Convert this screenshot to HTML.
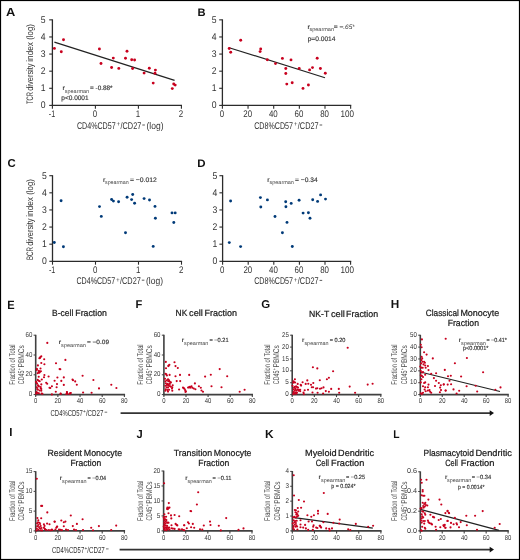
<!DOCTYPE html>
<html><head><meta charset="utf-8"><title>Figure</title>
<style>
html,body{margin:0;padding:0;background:#fff;}
body{width:520px;height:560px;overflow:hidden;}
svg{display:block;font-family:"Liberation Sans", sans-serif;will-change:transform;text-rendering:geometricPrecision;}
</style></head><body>
<svg width="520" height="560" viewBox="0 0 520 560">
<rect x="0.5" y="0.5" width="519" height="559" fill="#fff" stroke="#000" stroke-width="1.2"/>
<text x="5.9" y="16.2" font-size="11.73" font-weight="bold" font-style="normal" fill="#111" textLength="9.3" lengthAdjust="spacingAndGlyphs">A</text>
<text x="197.5" y="16.2" font-size="10.89" font-weight="bold" font-style="normal" fill="#111" textLength="8.1" lengthAdjust="spacingAndGlyphs">B</text>
<text x="7.5" y="167.1" font-size="11.45" font-weight="bold" font-style="normal" fill="#111" textLength="8.2" lengthAdjust="spacingAndGlyphs">C</text>
<text x="197.3" y="166.7" font-size="11.03" font-weight="bold" font-style="normal" fill="#111" textLength="8.3" lengthAdjust="spacingAndGlyphs">D</text>
<text x="7.2" y="308.5" font-size="12.01" font-weight="bold" font-style="normal" fill="#111" textLength="7.4" lengthAdjust="spacingAndGlyphs">E</text>
<text x="135.5" y="308.4" font-size="11.31" font-weight="bold" font-style="normal" fill="#111" textLength="6.8" lengthAdjust="spacingAndGlyphs">F</text>
<text x="261.2" y="307.9" font-size="11.31" font-weight="bold" font-style="normal" fill="#111" textLength="8.9" lengthAdjust="spacingAndGlyphs">G</text>
<text x="390.8" y="307.9" font-size="11.73" font-weight="bold" font-style="normal" fill="#111" textLength="8.5" lengthAdjust="spacingAndGlyphs">H</text>
<text x="9.3" y="435.8" font-size="11.73" font-weight="bold" font-style="normal" fill="#111" textLength="3.2" lengthAdjust="spacingAndGlyphs">I</text>
<text x="136.6" y="438.1" font-size="11.73" font-weight="bold" font-style="normal" fill="#111" textLength="6.2" lengthAdjust="spacingAndGlyphs">J</text>
<text x="265" y="437.9" font-size="11.59" font-weight="bold" font-style="normal" fill="#111" textLength="8.6" lengthAdjust="spacingAndGlyphs">K</text>
<text x="393.2" y="437.9" font-size="11.31" font-weight="bold" font-style="normal" fill="#111" textLength="6.3" lengthAdjust="spacingAndGlyphs">L</text>
<line x1="52.4" y1="19.35" x2="52.4" y2="106" stroke="#2b2b2b" stroke-width="1.3"/>
<line x1="51.8" y1="105.4" x2="182" y2="105.4" stroke="#2b2b2b" stroke-width="1.3"/>
<line x1="49.2" y1="105.4" x2="52.4" y2="105.4" stroke="#2b2b2b" stroke-width="1.1"/>
<text x="40.7" y="108.2" font-size="9.7" font-weight="normal" font-style="normal" fill="#333333" textLength="4.8" lengthAdjust="spacingAndGlyphs">0</text>
<line x1="49.2" y1="88.29" x2="52.4" y2="88.29" stroke="#2b2b2b" stroke-width="1.1"/>
<text x="40.7" y="91.09" font-size="9.7" font-weight="normal" font-style="normal" fill="#333333" textLength="4.8" lengthAdjust="spacingAndGlyphs">1</text>
<line x1="49.2" y1="71.18" x2="52.4" y2="71.18" stroke="#2b2b2b" stroke-width="1.1"/>
<text x="40.7" y="73.98" font-size="9.7" font-weight="normal" font-style="normal" fill="#333333" textLength="4.8" lengthAdjust="spacingAndGlyphs">2</text>
<line x1="49.2" y1="54.07" x2="52.4" y2="54.07" stroke="#2b2b2b" stroke-width="1.1"/>
<text x="40.7" y="56.87" font-size="9.7" font-weight="normal" font-style="normal" fill="#333333" textLength="4.8" lengthAdjust="spacingAndGlyphs">3</text>
<line x1="49.2" y1="36.96" x2="52.4" y2="36.96" stroke="#2b2b2b" stroke-width="1.1"/>
<text x="40.7" y="39.76" font-size="9.7" font-weight="normal" font-style="normal" fill="#333333" textLength="4.8" lengthAdjust="spacingAndGlyphs">4</text>
<line x1="49.2" y1="19.85" x2="52.4" y2="19.85" stroke="#2b2b2b" stroke-width="1.1"/>
<text x="40.7" y="22.65" font-size="9.7" font-weight="normal" font-style="normal" fill="#333333" textLength="4.8" lengthAdjust="spacingAndGlyphs">5</text>
<line x1="52.4" y1="105.4" x2="52.4" y2="108.8" stroke="#2b2b2b" stroke-width="1.1"/>
<text x="48.8" y="117" font-size="9.6" font-weight="normal" font-style="normal" fill="#333333" textLength="6.4" lengthAdjust="spacingAndGlyphs">-1</text>
<line x1="95.4" y1="105.4" x2="95.4" y2="108.8" stroke="#2b2b2b" stroke-width="1.1"/>
<text x="92.8" y="117" font-size="9.6" font-weight="normal" font-style="normal" fill="#333333" textLength="4.4" lengthAdjust="spacingAndGlyphs">0</text>
<line x1="138.4" y1="105.4" x2="138.4" y2="108.8" stroke="#2b2b2b" stroke-width="1.1"/>
<text x="135.8" y="117" font-size="9.6" font-weight="normal" font-style="normal" fill="#333333" textLength="4.4" lengthAdjust="spacingAndGlyphs">1</text>
<line x1="181.4" y1="105.4" x2="181.4" y2="108.8" stroke="#2b2b2b" stroke-width="1.1"/>
<text x="178.8" y="117" font-size="9.6" font-weight="normal" font-style="normal" fill="#333333" textLength="4.4" lengthAdjust="spacingAndGlyphs">2</text>
<line x1="52.5" y1="175.2" x2="52.5" y2="261.9" stroke="#2b2b2b" stroke-width="1.3"/>
<line x1="51.9" y1="261.3" x2="182.1" y2="261.3" stroke="#2b2b2b" stroke-width="1.3"/>
<line x1="49.3" y1="261.3" x2="52.5" y2="261.3" stroke="#2b2b2b" stroke-width="1.1"/>
<text x="41.9" y="264.1" font-size="9.7" font-weight="normal" font-style="normal" fill="#333333" textLength="4.8" lengthAdjust="spacingAndGlyphs">0</text>
<line x1="49.3" y1="244.18" x2="52.5" y2="244.18" stroke="#2b2b2b" stroke-width="1.1"/>
<text x="41.9" y="246.98" font-size="9.7" font-weight="normal" font-style="normal" fill="#333333" textLength="4.8" lengthAdjust="spacingAndGlyphs">1</text>
<line x1="49.3" y1="227.06" x2="52.5" y2="227.06" stroke="#2b2b2b" stroke-width="1.1"/>
<text x="41.9" y="229.86" font-size="9.7" font-weight="normal" font-style="normal" fill="#333333" textLength="4.8" lengthAdjust="spacingAndGlyphs">2</text>
<line x1="49.3" y1="209.94" x2="52.5" y2="209.94" stroke="#2b2b2b" stroke-width="1.1"/>
<text x="41.9" y="212.74" font-size="9.7" font-weight="normal" font-style="normal" fill="#333333" textLength="4.8" lengthAdjust="spacingAndGlyphs">3</text>
<line x1="49.3" y1="192.82" x2="52.5" y2="192.82" stroke="#2b2b2b" stroke-width="1.1"/>
<text x="41.9" y="195.62" font-size="9.7" font-weight="normal" font-style="normal" fill="#333333" textLength="4.8" lengthAdjust="spacingAndGlyphs">4</text>
<line x1="49.3" y1="175.7" x2="52.5" y2="175.7" stroke="#2b2b2b" stroke-width="1.1"/>
<text x="41.9" y="178.5" font-size="9.7" font-weight="normal" font-style="normal" fill="#333333" textLength="4.8" lengthAdjust="spacingAndGlyphs">5</text>
<line x1="52.5" y1="261.3" x2="52.5" y2="264.7" stroke="#2b2b2b" stroke-width="1.1"/>
<text x="48.9" y="272.9" font-size="9.6" font-weight="normal" font-style="normal" fill="#333333" textLength="6.4" lengthAdjust="spacingAndGlyphs">-1</text>
<line x1="95.5" y1="261.3" x2="95.5" y2="264.7" stroke="#2b2b2b" stroke-width="1.1"/>
<text x="92.9" y="272.9" font-size="9.6" font-weight="normal" font-style="normal" fill="#333333" textLength="4.4" lengthAdjust="spacingAndGlyphs">0</text>
<line x1="138.5" y1="261.3" x2="138.5" y2="264.7" stroke="#2b2b2b" stroke-width="1.1"/>
<text x="135.9" y="272.9" font-size="9.6" font-weight="normal" font-style="normal" fill="#333333" textLength="4.4" lengthAdjust="spacingAndGlyphs">1</text>
<line x1="181.5" y1="261.3" x2="181.5" y2="264.7" stroke="#2b2b2b" stroke-width="1.1"/>
<text x="178.9" y="272.9" font-size="9.6" font-weight="normal" font-style="normal" fill="#333333" textLength="4.4" lengthAdjust="spacingAndGlyphs">2</text>
<line x1="222.4" y1="19.35" x2="222.4" y2="106" stroke="#2b2b2b" stroke-width="1.3"/>
<line x1="221.8" y1="105.4" x2="351.25" y2="105.4" stroke="#2b2b2b" stroke-width="1.3"/>
<line x1="219.2" y1="105.4" x2="222.4" y2="105.4" stroke="#2b2b2b" stroke-width="1.1"/>
<text x="211.8" y="108.2" font-size="9.7" font-weight="normal" font-style="normal" fill="#333333" textLength="4.8" lengthAdjust="spacingAndGlyphs">0</text>
<line x1="219.2" y1="88.29" x2="222.4" y2="88.29" stroke="#2b2b2b" stroke-width="1.1"/>
<text x="211.8" y="91.09" font-size="9.7" font-weight="normal" font-style="normal" fill="#333333" textLength="4.8" lengthAdjust="spacingAndGlyphs">1</text>
<line x1="219.2" y1="71.18" x2="222.4" y2="71.18" stroke="#2b2b2b" stroke-width="1.1"/>
<text x="211.8" y="73.98" font-size="9.7" font-weight="normal" font-style="normal" fill="#333333" textLength="4.8" lengthAdjust="spacingAndGlyphs">2</text>
<line x1="219.2" y1="54.07" x2="222.4" y2="54.07" stroke="#2b2b2b" stroke-width="1.1"/>
<text x="211.8" y="56.87" font-size="9.7" font-weight="normal" font-style="normal" fill="#333333" textLength="4.8" lengthAdjust="spacingAndGlyphs">3</text>
<line x1="219.2" y1="36.96" x2="222.4" y2="36.96" stroke="#2b2b2b" stroke-width="1.1"/>
<text x="211.8" y="39.76" font-size="9.7" font-weight="normal" font-style="normal" fill="#333333" textLength="4.8" lengthAdjust="spacingAndGlyphs">4</text>
<line x1="219.2" y1="19.85" x2="222.4" y2="19.85" stroke="#2b2b2b" stroke-width="1.1"/>
<text x="211.8" y="22.65" font-size="9.7" font-weight="normal" font-style="normal" fill="#333333" textLength="4.8" lengthAdjust="spacingAndGlyphs">5</text>
<line x1="222.4" y1="105.4" x2="222.4" y2="108.8" stroke="#2b2b2b" stroke-width="1.1"/>
<text x="219.8" y="117" font-size="9.6" font-weight="normal" font-style="normal" fill="#333333" textLength="4.4" lengthAdjust="spacingAndGlyphs">0</text>
<line x1="248.05" y1="105.4" x2="248.05" y2="108.8" stroke="#2b2b2b" stroke-width="1.1"/>
<text x="243.25" y="117" font-size="9.6" font-weight="normal" font-style="normal" fill="#333333" textLength="8.8" lengthAdjust="spacingAndGlyphs">20</text>
<line x1="273.7" y1="105.4" x2="273.7" y2="108.8" stroke="#2b2b2b" stroke-width="1.1"/>
<text x="268.9" y="117" font-size="9.6" font-weight="normal" font-style="normal" fill="#333333" textLength="8.8" lengthAdjust="spacingAndGlyphs">40</text>
<line x1="299.35" y1="105.4" x2="299.35" y2="108.8" stroke="#2b2b2b" stroke-width="1.1"/>
<text x="294.55" y="117" font-size="9.6" font-weight="normal" font-style="normal" fill="#333333" textLength="8.8" lengthAdjust="spacingAndGlyphs">60</text>
<line x1="325" y1="105.4" x2="325" y2="108.8" stroke="#2b2b2b" stroke-width="1.1"/>
<text x="320.2" y="117" font-size="9.6" font-weight="normal" font-style="normal" fill="#333333" textLength="8.8" lengthAdjust="spacingAndGlyphs">80</text>
<line x1="350.65" y1="105.4" x2="350.65" y2="108.8" stroke="#2b2b2b" stroke-width="1.1"/>
<text x="340.5" y="117" font-size="9.6" font-weight="normal" font-style="normal" fill="#333333" textLength="13.5" lengthAdjust="spacingAndGlyphs">100</text>
<line x1="222.6" y1="175.2" x2="222.6" y2="261.9" stroke="#2b2b2b" stroke-width="1.3"/>
<line x1="222" y1="261.3" x2="351.2" y2="261.3" stroke="#2b2b2b" stroke-width="1.3"/>
<line x1="219.4" y1="261.3" x2="222.6" y2="261.3" stroke="#2b2b2b" stroke-width="1.1"/>
<text x="212.4" y="264.1" font-size="9.7" font-weight="normal" font-style="normal" fill="#333333" textLength="4.8" lengthAdjust="spacingAndGlyphs">0</text>
<line x1="219.4" y1="244.18" x2="222.6" y2="244.18" stroke="#2b2b2b" stroke-width="1.1"/>
<text x="212.4" y="246.98" font-size="9.7" font-weight="normal" font-style="normal" fill="#333333" textLength="4.8" lengthAdjust="spacingAndGlyphs">1</text>
<line x1="219.4" y1="227.06" x2="222.6" y2="227.06" stroke="#2b2b2b" stroke-width="1.1"/>
<text x="212.4" y="229.86" font-size="9.7" font-weight="normal" font-style="normal" fill="#333333" textLength="4.8" lengthAdjust="spacingAndGlyphs">2</text>
<line x1="219.4" y1="209.94" x2="222.6" y2="209.94" stroke="#2b2b2b" stroke-width="1.1"/>
<text x="212.4" y="212.74" font-size="9.7" font-weight="normal" font-style="normal" fill="#333333" textLength="4.8" lengthAdjust="spacingAndGlyphs">3</text>
<line x1="219.4" y1="192.82" x2="222.6" y2="192.82" stroke="#2b2b2b" stroke-width="1.1"/>
<text x="212.4" y="195.62" font-size="9.7" font-weight="normal" font-style="normal" fill="#333333" textLength="4.8" lengthAdjust="spacingAndGlyphs">4</text>
<line x1="219.4" y1="175.7" x2="222.6" y2="175.7" stroke="#2b2b2b" stroke-width="1.1"/>
<text x="212.4" y="178.5" font-size="9.7" font-weight="normal" font-style="normal" fill="#333333" textLength="4.8" lengthAdjust="spacingAndGlyphs">5</text>
<line x1="222.6" y1="261.3" x2="222.6" y2="264.7" stroke="#2b2b2b" stroke-width="1.1"/>
<text x="220" y="272.9" font-size="9.6" font-weight="normal" font-style="normal" fill="#333333" textLength="4.4" lengthAdjust="spacingAndGlyphs">0</text>
<line x1="248.2" y1="261.3" x2="248.2" y2="264.7" stroke="#2b2b2b" stroke-width="1.1"/>
<text x="243.4" y="272.9" font-size="9.6" font-weight="normal" font-style="normal" fill="#333333" textLength="8.8" lengthAdjust="spacingAndGlyphs">20</text>
<line x1="273.8" y1="261.3" x2="273.8" y2="264.7" stroke="#2b2b2b" stroke-width="1.1"/>
<text x="269" y="272.9" font-size="9.6" font-weight="normal" font-style="normal" fill="#333333" textLength="8.8" lengthAdjust="spacingAndGlyphs">40</text>
<line x1="299.4" y1="261.3" x2="299.4" y2="264.7" stroke="#2b2b2b" stroke-width="1.1"/>
<text x="294.6" y="272.9" font-size="9.6" font-weight="normal" font-style="normal" fill="#333333" textLength="8.8" lengthAdjust="spacingAndGlyphs">60</text>
<line x1="325" y1="261.3" x2="325" y2="264.7" stroke="#2b2b2b" stroke-width="1.1"/>
<text x="320.2" y="272.9" font-size="9.6" font-weight="normal" font-style="normal" fill="#333333" textLength="8.8" lengthAdjust="spacingAndGlyphs">80</text>
<line x1="350.6" y1="261.3" x2="350.6" y2="264.7" stroke="#2b2b2b" stroke-width="1.1"/>
<text x="340.5" y="272.9" font-size="9.6" font-weight="normal" font-style="normal" fill="#333333" textLength="13.5" lengthAdjust="spacingAndGlyphs">100</text>
<text transform="translate(33 104) rotate(-90)" x="0" y="0" font-size="9.4" font-weight="normal" fill="#333333" textLength="12.1" lengthAdjust="spacingAndGlyphs">TCR</text>
<text transform="translate(33 90.8) rotate(-90)" x="0" y="0" font-size="9.4" font-weight="normal" fill="#333333" textLength="27.4" lengthAdjust="spacingAndGlyphs">diversity</text>
<text transform="translate(33 61.8) rotate(-90)" x="0" y="0" font-size="9.4" font-weight="normal" fill="#333333" textLength="19.8" lengthAdjust="spacingAndGlyphs">index</text>
<text transform="translate(33 39.8) rotate(-90)" x="0" y="0" font-size="9.4" font-weight="normal" fill="#333333" textLength="15.7" lengthAdjust="spacingAndGlyphs">(log)</text>
<text transform="translate(33 260) rotate(-90)" x="0" y="0" font-size="9.4" font-weight="normal" fill="#333333" textLength="13" lengthAdjust="spacingAndGlyphs">BCR</text>
<text transform="translate(33 245.8) rotate(-90)" x="0" y="0" font-size="9.4" font-weight="normal" fill="#333333" textLength="27.4" lengthAdjust="spacingAndGlyphs">diversity</text>
<text transform="translate(33 216.8) rotate(-90)" x="0" y="0" font-size="9.4" font-weight="normal" fill="#333333" textLength="19.8" lengthAdjust="spacingAndGlyphs">index</text>
<text transform="translate(33 194.8) rotate(-90)" x="0" y="0" font-size="9.4" font-weight="normal" fill="#333333" textLength="15.7" lengthAdjust="spacingAndGlyphs">(log)</text>
<text x="76.9" y="128.6" font-size="9.8" font-weight="normal" font-style="normal" fill="#333333" textLength="38.8" lengthAdjust="spacingAndGlyphs">CD4%CD57</text>
<text x="116.5" y="126.3" font-size="6.4" font-weight="normal" font-style="normal" fill="#333333" textLength="3.8" lengthAdjust="spacingAndGlyphs">+</text>
<text x="120.5" y="128.6" font-size="9.8" font-weight="normal" font-style="normal" fill="#333333" textLength="20.8" lengthAdjust="spacingAndGlyphs">/CD27</text>
<line x1="142.3" y1="125" x2="144.9" y2="125" stroke="#333333" stroke-width="0.8"/>
<text x="146.5" y="128.6" font-size="9.8" font-weight="normal" font-style="normal" fill="#333333" textLength="17" lengthAdjust="spacingAndGlyphs">(log)</text>
<text x="76.4" y="283.8" font-size="9.8" font-weight="normal" font-style="normal" fill="#333333" textLength="38.8" lengthAdjust="spacingAndGlyphs">CD4%CD57</text>
<text x="116" y="281.5" font-size="6.4" font-weight="normal" font-style="normal" fill="#333333" textLength="3.8" lengthAdjust="spacingAndGlyphs">+</text>
<text x="120" y="283.8" font-size="9.8" font-weight="normal" font-style="normal" fill="#333333" textLength="20.8" lengthAdjust="spacingAndGlyphs">/CD27</text>
<line x1="141.8" y1="280.2" x2="144.4" y2="280.2" stroke="#333333" stroke-width="0.8"/>
<text x="146" y="283.8" font-size="9.8" font-weight="normal" font-style="normal" fill="#333333" textLength="17" lengthAdjust="spacingAndGlyphs">(log)</text>
<text x="254.2" y="128.6" font-size="9.8" font-weight="normal" font-style="normal" fill="#333333" textLength="38.8" lengthAdjust="spacingAndGlyphs">CD8%CD57</text>
<text x="293.8" y="126.3" font-size="6.4" font-weight="normal" font-style="normal" fill="#333333" textLength="3.8" lengthAdjust="spacingAndGlyphs">+</text>
<text x="297.8" y="128.6" font-size="9.8" font-weight="normal" font-style="normal" fill="#333333" textLength="20.8" lengthAdjust="spacingAndGlyphs">/CD27</text>
<line x1="319.6" y1="125" x2="322.2" y2="125" stroke="#333333" stroke-width="0.8"/>
<text x="254.2" y="284" font-size="9.8" font-weight="normal" font-style="normal" fill="#333333" textLength="38.8" lengthAdjust="spacingAndGlyphs">CD8%CD57</text>
<text x="293.8" y="281.7" font-size="6.4" font-weight="normal" font-style="normal" fill="#333333" textLength="3.8" lengthAdjust="spacingAndGlyphs">+</text>
<text x="297.8" y="284" font-size="9.8" font-weight="normal" font-style="normal" fill="#333333" textLength="20.8" lengthAdjust="spacingAndGlyphs">/CD27</text>
<line x1="319.6" y1="280.4" x2="322.2" y2="280.4" stroke="#333333" stroke-width="0.8"/>
<line x1="54.4" y1="42.1" x2="174.6" y2="80.4" stroke="#222" stroke-width="1.2"/>
<circle cx="54.4" cy="48.4" r="1.45" fill="#c8001e"/>
<circle cx="63.5" cy="39.8" r="1.45" fill="#c8001e"/>
<circle cx="61.3" cy="51.8" r="1.45" fill="#c8001e"/>
<circle cx="99.4" cy="49" r="1.45" fill="#c8001e"/>
<circle cx="101" cy="63.5" r="1.45" fill="#c8001e"/>
<circle cx="113.3" cy="58.1" r="1.45" fill="#c8001e"/>
<circle cx="111.6" cy="67.5" r="1.45" fill="#c8001e"/>
<circle cx="118.8" cy="68.4" r="1.45" fill="#c8001e"/>
<circle cx="127" cy="51.3" r="1.45" fill="#c8001e"/>
<circle cx="125.5" cy="58.3" r="1.45" fill="#c8001e"/>
<circle cx="131.7" cy="59.7" r="1.45" fill="#c8001e"/>
<circle cx="134.6" cy="60" r="1.45" fill="#c8001e"/>
<circle cx="132.6" cy="68.5" r="1.45" fill="#c8001e"/>
<circle cx="149.3" cy="68.2" r="1.45" fill="#c8001e"/>
<circle cx="155.4" cy="70.1" r="1.45" fill="#c8001e"/>
<circle cx="144.1" cy="73.1" r="1.45" fill="#c8001e"/>
<circle cx="155" cy="73.3" r="1.45" fill="#c8001e"/>
<circle cx="153.2" cy="83.1" r="1.45" fill="#c8001e"/>
<circle cx="173.7" cy="84" r="1.45" fill="#c8001e"/>
<circle cx="175.2" cy="85.1" r="1.45" fill="#c8001e"/>
<circle cx="172.3" cy="88.6" r="1.45" fill="#c8001e"/>
<line x1="229.2" y1="47.7" x2="325" y2="77.8" stroke="#222" stroke-width="1.2"/>
<circle cx="240.7" cy="40.2" r="1.45" fill="#c8001e"/>
<circle cx="229.2" cy="48.5" r="1.45" fill="#c8001e"/>
<circle cx="230.7" cy="52.2" r="1.45" fill="#c8001e"/>
<circle cx="260.7" cy="49" r="1.45" fill="#c8001e"/>
<circle cx="260.1" cy="51.6" r="1.45" fill="#c8001e"/>
<circle cx="267.3" cy="59.8" r="1.45" fill="#c8001e"/>
<circle cx="275.5" cy="63.6" r="1.45" fill="#c8001e"/>
<circle cx="282.4" cy="58.4" r="1.45" fill="#c8001e"/>
<circle cx="291" cy="59.9" r="1.45" fill="#c8001e"/>
<circle cx="285.8" cy="68.5" r="1.45" fill="#c8001e"/>
<circle cx="285.8" cy="73.5" r="1.45" fill="#c8001e"/>
<circle cx="299.2" cy="68.4" r="1.45" fill="#c8001e"/>
<circle cx="309.6" cy="69.9" r="1.45" fill="#c8001e"/>
<circle cx="312.5" cy="67.6" r="1.45" fill="#c8001e"/>
<circle cx="317.2" cy="58.2" r="1.45" fill="#c8001e"/>
<circle cx="320.4" cy="68.5" r="1.45" fill="#c8001e"/>
<circle cx="325.3" cy="73.2" r="1.45" fill="#c8001e"/>
<circle cx="286.8" cy="84.1" r="1.45" fill="#c8001e"/>
<circle cx="292.2" cy="82.8" r="1.45" fill="#c8001e"/>
<circle cx="308.4" cy="85" r="1.45" fill="#c8001e"/>
<circle cx="303" cy="88.4" r="1.45" fill="#c8001e"/>
<circle cx="61.1" cy="200.7" r="1.45" fill="#003a78"/>
<circle cx="54.3" cy="242.5" r="1.45" fill="#003a78"/>
<circle cx="63.4" cy="246.8" r="1.45" fill="#003a78"/>
<circle cx="99.5" cy="206.6" r="1.45" fill="#003a78"/>
<circle cx="101.3" cy="216.4" r="1.45" fill="#003a78"/>
<circle cx="111.6" cy="199.5" r="1.45" fill="#003a78"/>
<circle cx="113.4" cy="201.1" r="1.45" fill="#003a78"/>
<circle cx="118.6" cy="201.7" r="1.45" fill="#003a78"/>
<circle cx="127.1" cy="197.3" r="1.45" fill="#003a78"/>
<circle cx="132.7" cy="194.5" r="1.45" fill="#003a78"/>
<circle cx="131.6" cy="199.6" r="1.45" fill="#003a78"/>
<circle cx="134.6" cy="203.2" r="1.45" fill="#003a78"/>
<circle cx="144.1" cy="198.6" r="1.45" fill="#003a78"/>
<circle cx="149.5" cy="200" r="1.45" fill="#003a78"/>
<circle cx="155" cy="206.4" r="1.45" fill="#003a78"/>
<circle cx="155.4" cy="218.2" r="1.45" fill="#003a78"/>
<circle cx="125.5" cy="232.7" r="1.45" fill="#003a78"/>
<circle cx="153.2" cy="246.4" r="1.45" fill="#003a78"/>
<circle cx="172" cy="212.9" r="1.45" fill="#003a78"/>
<circle cx="175.2" cy="212.9" r="1.45" fill="#003a78"/>
<circle cx="173.8" cy="222.5" r="1.45" fill="#003a78"/>
<circle cx="230.6" cy="201" r="1.45" fill="#003a78"/>
<circle cx="229.3" cy="242.6" r="1.45" fill="#003a78"/>
<circle cx="240.6" cy="246.6" r="1.45" fill="#003a78"/>
<circle cx="260.4" cy="197.6" r="1.45" fill="#003a78"/>
<circle cx="260.8" cy="207" r="1.45" fill="#003a78"/>
<circle cx="267.4" cy="199.9" r="1.45" fill="#003a78"/>
<circle cx="275" cy="216.5" r="1.45" fill="#003a78"/>
<circle cx="285.7" cy="201.8" r="1.45" fill="#003a78"/>
<circle cx="285.9" cy="206.7" r="1.45" fill="#003a78"/>
<circle cx="291.2" cy="203.4" r="1.45" fill="#003a78"/>
<circle cx="299.1" cy="200.2" r="1.45" fill="#003a78"/>
<circle cx="303.1" cy="213.1" r="1.45" fill="#003a78"/>
<circle cx="308.4" cy="212.8" r="1.45" fill="#003a78"/>
<circle cx="310" cy="218.2" r="1.45" fill="#003a78"/>
<circle cx="287" cy="222.4" r="1.45" fill="#003a78"/>
<circle cx="282.4" cy="232.7" r="1.45" fill="#003a78"/>
<circle cx="292.3" cy="246.5" r="1.45" fill="#003a78"/>
<circle cx="312.7" cy="199.7" r="1.45" fill="#003a78"/>
<circle cx="317.6" cy="201.4" r="1.45" fill="#003a78"/>
<circle cx="320.6" cy="194.9" r="1.45" fill="#003a78"/>
<circle cx="325.5" cy="199.1" r="1.45" fill="#003a78"/>
<text x="62.4" y="89.7" font-size="6.4" font-weight="normal" font-style="normal" fill="#333333" stroke="#333333" stroke-width="0.15" textLength="2.4" lengthAdjust="spacingAndGlyphs">r</text>
<text x="64.7" y="92.7" font-size="5.4" font-weight="normal" font-style="normal" fill="#444" textLength="24.5" lengthAdjust="spacingAndGlyphs">spearman</text>
<text x="90" y="89.7" font-size="6.4" font-weight="normal" font-style="normal" fill="#333333" stroke="#333333" stroke-width="0.15" textLength="22.6" lengthAdjust="spacingAndGlyphs">= -0.88*</text>
<text x="61.3" y="99.8" font-size="6.6" font-weight="normal" font-style="normal" fill="#333333" stroke="#333333" stroke-width="0.15" textLength="27.3" lengthAdjust="spacingAndGlyphs">p&lt;0.0001</text>
<text x="307.5" y="29.4" font-size="6.4" font-weight="normal" font-style="normal" fill="#333333" stroke="#333333" stroke-width="0.15" textLength="2.4" lengthAdjust="spacingAndGlyphs">r</text>
<text x="309.4" y="31.3" font-size="5.4" font-weight="normal" font-style="normal" fill="#444" textLength="24.6" lengthAdjust="spacingAndGlyphs">spearman</text>
<text x="333.7" y="29.4" font-size="6.4" font-weight="normal" font-style="normal" fill="#333333" stroke="#333333" stroke-width="0.15" textLength="9.7" lengthAdjust="spacingAndGlyphs">= −</text>
<text x="343.3" y="29.4" font-size="6.4" font-weight="normal" font-style="italic" fill="#333333" textLength="9.1" lengthAdjust="spacingAndGlyphs">.65</text>
<text x="352.6" y="29.4" font-size="6.4" font-weight="normal" font-style="normal" fill="#333333" textLength="2.3" lengthAdjust="spacingAndGlyphs">*</text>
<text x="307.7" y="40.5" font-size="6.6" font-weight="normal" font-style="normal" fill="#333333" stroke="#333333" stroke-width="0.15" textLength="27.8" lengthAdjust="spacingAndGlyphs">p=0.0014</text>
<text x="103" y="181.6" font-size="6.6" font-weight="normal" font-style="normal" fill="#333333" stroke="#333333" stroke-width="0.15" textLength="2.4" lengthAdjust="spacingAndGlyphs">r</text>
<text x="105" y="184.2" font-size="5.4" font-weight="normal" font-style="normal" fill="#444" textLength="23.6" lengthAdjust="spacingAndGlyphs">spearman</text>
<text x="129.9" y="181.6" font-size="6.6" font-weight="normal" font-style="normal" fill="#333333" stroke="#333333" stroke-width="0.15" textLength="27" lengthAdjust="spacingAndGlyphs">= −0.012</text>
<text x="267.2" y="181.5" font-size="6.6" font-weight="normal" font-style="normal" fill="#333333" stroke="#333333" stroke-width="0.15" textLength="2.4" lengthAdjust="spacingAndGlyphs">r</text>
<text x="269.5" y="184.2" font-size="5.4" font-weight="normal" font-style="normal" fill="#444" textLength="24.4" lengthAdjust="spacingAndGlyphs">spearman</text>
<text x="295" y="181.5" font-size="6.6" font-weight="normal" font-style="normal" fill="#333333" stroke="#333333" stroke-width="0.15" textLength="22.6" lengthAdjust="spacingAndGlyphs">= −0.34</text>
<line x1="35.7" y1="334.8" x2="35.7" y2="395.2" stroke="#404040" stroke-width="1.6"/>
<line x1="35" y1="394.6" x2="125.08" y2="394.6" stroke="#404040" stroke-width="1.7"/>
<line x1="33.6" y1="394.6" x2="35.7" y2="394.6" stroke="#404040" stroke-width="1"/>
<text x="28.8" y="396.2" font-size="7" font-weight="normal" font-style="normal" fill="#333333" textLength="3.5" lengthAdjust="spacingAndGlyphs">0</text>
<line x1="33.6" y1="374.8" x2="35.7" y2="374.8" stroke="#404040" stroke-width="1"/>
<text x="25.5" y="376.4" font-size="7" font-weight="normal" font-style="normal" fill="#333333" textLength="6.8" lengthAdjust="spacingAndGlyphs">20</text>
<line x1="33.6" y1="355" x2="35.7" y2="355" stroke="#404040" stroke-width="1"/>
<text x="25.5" y="356.6" font-size="7" font-weight="normal" font-style="normal" fill="#333333" textLength="6.8" lengthAdjust="spacingAndGlyphs">40</text>
<line x1="33.6" y1="335.2" x2="35.7" y2="335.2" stroke="#404040" stroke-width="1"/>
<text x="25.5" y="336.8" font-size="7" font-weight="normal" font-style="normal" fill="#333333" textLength="6.8" lengthAdjust="spacingAndGlyphs">60</text>
<line x1="35.7" y1="394.6" x2="35.7" y2="397.1" stroke="#404040" stroke-width="1.1"/>
<text x="34.05" y="403.2" font-size="7" font-weight="normal" font-style="normal" fill="#333333" textLength="3.3" lengthAdjust="spacingAndGlyphs">0</text>
<line x1="57.87" y1="394.6" x2="57.87" y2="397.1" stroke="#404040" stroke-width="1.1"/>
<text x="54.57" y="403.2" font-size="7" font-weight="normal" font-style="normal" fill="#333333" textLength="6.6" lengthAdjust="spacingAndGlyphs">20</text>
<line x1="80.04" y1="394.6" x2="80.04" y2="397.1" stroke="#404040" stroke-width="1.1"/>
<text x="76.74" y="403.2" font-size="7" font-weight="normal" font-style="normal" fill="#333333" textLength="6.6" lengthAdjust="spacingAndGlyphs">40</text>
<line x1="102.21" y1="394.6" x2="102.21" y2="397.1" stroke="#404040" stroke-width="1.1"/>
<text x="98.91" y="403.2" font-size="7" font-weight="normal" font-style="normal" fill="#333333" textLength="6.6" lengthAdjust="spacingAndGlyphs">60</text>
<line x1="124.38" y1="394.6" x2="124.38" y2="397.1" stroke="#404040" stroke-width="1.1"/>
<text x="121.08" y="403.2" font-size="7" font-weight="normal" font-style="normal" fill="#333333" textLength="6.6" lengthAdjust="spacingAndGlyphs">80</text>
<text transform="translate(14.7 384.7) rotate(-90)" x="0" y="0" font-size="8.4" font-weight="normal" fill="#4a4a4a" textLength="40.3" lengthAdjust="spacingAndGlyphs">Fraction of Total</text>
<text transform="translate(23.9 384.2) rotate(-90)" x="0" y="0" font-size="8.4" font-weight="normal" fill="#4a4a4a" textLength="13.6" lengthAdjust="spacingAndGlyphs">CD45</text>
<text transform="translate(20.9 370.2) rotate(-90)" x="0" y="0" font-size="5" font-weight="normal" fill="#4a4a4a" textLength="2.2" lengthAdjust="spacingAndGlyphs">+</text>
<text transform="translate(23.9 367.4) rotate(-90)" x="0" y="0" font-size="8.4" font-weight="normal" fill="#4a4a4a" textLength="22.2" lengthAdjust="spacingAndGlyphs">PBMCs</text>
<line x1="163.9" y1="334.8" x2="163.9" y2="395.2" stroke="#404040" stroke-width="1.6"/>
<line x1="163.2" y1="394.6" x2="253" y2="394.6" stroke="#404040" stroke-width="1.7"/>
<line x1="161.8" y1="394.6" x2="163.9" y2="394.6" stroke="#404040" stroke-width="1"/>
<text x="157" y="396.2" font-size="7" font-weight="normal" font-style="normal" fill="#333333" textLength="3.5" lengthAdjust="spacingAndGlyphs">0</text>
<line x1="161.8" y1="374.8" x2="163.9" y2="374.8" stroke="#404040" stroke-width="1"/>
<text x="153.7" y="376.4" font-size="7" font-weight="normal" font-style="normal" fill="#333333" textLength="6.8" lengthAdjust="spacingAndGlyphs">20</text>
<line x1="161.8" y1="355" x2="163.9" y2="355" stroke="#404040" stroke-width="1"/>
<text x="153.7" y="356.6" font-size="7" font-weight="normal" font-style="normal" fill="#333333" textLength="6.8" lengthAdjust="spacingAndGlyphs">40</text>
<line x1="161.8" y1="335.2" x2="163.9" y2="335.2" stroke="#404040" stroke-width="1"/>
<text x="153.7" y="336.8" font-size="7" font-weight="normal" font-style="normal" fill="#333333" textLength="6.8" lengthAdjust="spacingAndGlyphs">60</text>
<line x1="163.9" y1="394.6" x2="163.9" y2="397.1" stroke="#404040" stroke-width="1.1"/>
<text x="162.25" y="403.2" font-size="7" font-weight="normal" font-style="normal" fill="#333333" textLength="3.3" lengthAdjust="spacingAndGlyphs">0</text>
<line x1="186" y1="394.6" x2="186" y2="397.1" stroke="#404040" stroke-width="1.1"/>
<text x="182.7" y="403.2" font-size="7" font-weight="normal" font-style="normal" fill="#333333" textLength="6.6" lengthAdjust="spacingAndGlyphs">20</text>
<line x1="208.1" y1="394.6" x2="208.1" y2="397.1" stroke="#404040" stroke-width="1.1"/>
<text x="204.8" y="403.2" font-size="7" font-weight="normal" font-style="normal" fill="#333333" textLength="6.6" lengthAdjust="spacingAndGlyphs">40</text>
<line x1="230.2" y1="394.6" x2="230.2" y2="397.1" stroke="#404040" stroke-width="1.1"/>
<text x="226.9" y="403.2" font-size="7" font-weight="normal" font-style="normal" fill="#333333" textLength="6.6" lengthAdjust="spacingAndGlyphs">60</text>
<line x1="252.3" y1="394.6" x2="252.3" y2="397.1" stroke="#404040" stroke-width="1.1"/>
<text x="249" y="403.2" font-size="7" font-weight="normal" font-style="normal" fill="#333333" textLength="6.6" lengthAdjust="spacingAndGlyphs">80</text>
<text transform="translate(142.6 384.7) rotate(-90)" x="0" y="0" font-size="8.4" font-weight="normal" fill="#4a4a4a" textLength="40.3" lengthAdjust="spacingAndGlyphs">Fraction of Total</text>
<text transform="translate(151.8 384.2) rotate(-90)" x="0" y="0" font-size="8.4" font-weight="normal" fill="#4a4a4a" textLength="13.6" lengthAdjust="spacingAndGlyphs">CD45</text>
<text transform="translate(148.8 370.2) rotate(-90)" x="0" y="0" font-size="5" font-weight="normal" fill="#4a4a4a" textLength="2.2" lengthAdjust="spacingAndGlyphs">+</text>
<text transform="translate(151.8 367.4) rotate(-90)" x="0" y="0" font-size="8.4" font-weight="normal" fill="#4a4a4a" textLength="22.2" lengthAdjust="spacingAndGlyphs">PBMCs</text>
<line x1="292.2" y1="334.8" x2="292.2" y2="395.2" stroke="#404040" stroke-width="1.6"/>
<line x1="291.5" y1="394.6" x2="381.5" y2="394.6" stroke="#404040" stroke-width="1.7"/>
<line x1="290.1" y1="394.6" x2="292.2" y2="394.6" stroke="#404040" stroke-width="1"/>
<text x="285.3" y="396.2" font-size="7" font-weight="normal" font-style="normal" fill="#333333" textLength="3.5" lengthAdjust="spacingAndGlyphs">0</text>
<line x1="290.1" y1="382.72" x2="292.2" y2="382.72" stroke="#404040" stroke-width="1"/>
<text x="285.3" y="384.32" font-size="7" font-weight="normal" font-style="normal" fill="#333333" textLength="3.5" lengthAdjust="spacingAndGlyphs">5</text>
<line x1="290.1" y1="370.84" x2="292.2" y2="370.84" stroke="#404040" stroke-width="1"/>
<text x="282" y="372.44" font-size="7" font-weight="normal" font-style="normal" fill="#333333" textLength="6.8" lengthAdjust="spacingAndGlyphs">10</text>
<line x1="290.1" y1="358.96" x2="292.2" y2="358.96" stroke="#404040" stroke-width="1"/>
<text x="282" y="360.56" font-size="7" font-weight="normal" font-style="normal" fill="#333333" textLength="6.8" lengthAdjust="spacingAndGlyphs">15</text>
<line x1="290.1" y1="347.08" x2="292.2" y2="347.08" stroke="#404040" stroke-width="1"/>
<text x="282" y="348.68" font-size="7" font-weight="normal" font-style="normal" fill="#333333" textLength="6.8" lengthAdjust="spacingAndGlyphs">20</text>
<line x1="290.1" y1="335.2" x2="292.2" y2="335.2" stroke="#404040" stroke-width="1"/>
<text x="282" y="336.8" font-size="7" font-weight="normal" font-style="normal" fill="#333333" textLength="6.8" lengthAdjust="spacingAndGlyphs">25</text>
<line x1="292.2" y1="394.6" x2="292.2" y2="397.1" stroke="#404040" stroke-width="1.1"/>
<text x="290.55" y="403.2" font-size="7" font-weight="normal" font-style="normal" fill="#333333" textLength="3.3" lengthAdjust="spacingAndGlyphs">0</text>
<line x1="314.35" y1="394.6" x2="314.35" y2="397.1" stroke="#404040" stroke-width="1.1"/>
<text x="311.05" y="403.2" font-size="7" font-weight="normal" font-style="normal" fill="#333333" textLength="6.6" lengthAdjust="spacingAndGlyphs">20</text>
<line x1="336.5" y1="394.6" x2="336.5" y2="397.1" stroke="#404040" stroke-width="1.1"/>
<text x="333.2" y="403.2" font-size="7" font-weight="normal" font-style="normal" fill="#333333" textLength="6.6" lengthAdjust="spacingAndGlyphs">40</text>
<line x1="358.65" y1="394.6" x2="358.65" y2="397.1" stroke="#404040" stroke-width="1.1"/>
<text x="355.35" y="403.2" font-size="7" font-weight="normal" font-style="normal" fill="#333333" textLength="6.6" lengthAdjust="spacingAndGlyphs">60</text>
<line x1="380.8" y1="394.6" x2="380.8" y2="397.1" stroke="#404040" stroke-width="1.1"/>
<text x="377.5" y="403.2" font-size="7" font-weight="normal" font-style="normal" fill="#333333" textLength="6.6" lengthAdjust="spacingAndGlyphs">80</text>
<text transform="translate(269.6 384.7) rotate(-90)" x="0" y="0" font-size="8.4" font-weight="normal" fill="#4a4a4a" textLength="40.3" lengthAdjust="spacingAndGlyphs">Fraction of Total</text>
<text transform="translate(278.8 384.2) rotate(-90)" x="0" y="0" font-size="8.4" font-weight="normal" fill="#4a4a4a" textLength="13.6" lengthAdjust="spacingAndGlyphs">CD45</text>
<text transform="translate(275.8 370.2) rotate(-90)" x="0" y="0" font-size="5" font-weight="normal" fill="#4a4a4a" textLength="2.2" lengthAdjust="spacingAndGlyphs">+</text>
<text transform="translate(278.8 367.4) rotate(-90)" x="0" y="0" font-size="8.4" font-weight="normal" fill="#4a4a4a" textLength="22.2" lengthAdjust="spacingAndGlyphs">PBMCs</text>
<line x1="420.3" y1="334.8" x2="420.3" y2="395.2" stroke="#404040" stroke-width="1.6"/>
<line x1="419.6" y1="394.6" x2="508.8" y2="394.6" stroke="#404040" stroke-width="1.7"/>
<line x1="418.2" y1="394.6" x2="420.3" y2="394.6" stroke="#404040" stroke-width="1"/>
<text x="413.4" y="396.2" font-size="7" font-weight="normal" font-style="normal" fill="#333333" textLength="3.5" lengthAdjust="spacingAndGlyphs">0</text>
<line x1="418.2" y1="382.72" x2="420.3" y2="382.72" stroke="#404040" stroke-width="1"/>
<text x="410.1" y="384.32" font-size="7" font-weight="normal" font-style="normal" fill="#333333" textLength="6.8" lengthAdjust="spacingAndGlyphs">10</text>
<line x1="418.2" y1="370.84" x2="420.3" y2="370.84" stroke="#404040" stroke-width="1"/>
<text x="410.1" y="372.44" font-size="7" font-weight="normal" font-style="normal" fill="#333333" textLength="6.8" lengthAdjust="spacingAndGlyphs">20</text>
<line x1="418.2" y1="358.96" x2="420.3" y2="358.96" stroke="#404040" stroke-width="1"/>
<text x="410.1" y="360.56" font-size="7" font-weight="normal" font-style="normal" fill="#333333" textLength="6.8" lengthAdjust="spacingAndGlyphs">30</text>
<line x1="418.2" y1="347.08" x2="420.3" y2="347.08" stroke="#404040" stroke-width="1"/>
<text x="410.1" y="348.68" font-size="7" font-weight="normal" font-style="normal" fill="#333333" textLength="6.8" lengthAdjust="spacingAndGlyphs">40</text>
<line x1="418.2" y1="335.2" x2="420.3" y2="335.2" stroke="#404040" stroke-width="1"/>
<text x="410.1" y="336.8" font-size="7" font-weight="normal" font-style="normal" fill="#333333" textLength="6.8" lengthAdjust="spacingAndGlyphs">50</text>
<line x1="420.3" y1="394.6" x2="420.3" y2="397.1" stroke="#404040" stroke-width="1.1"/>
<text x="418.65" y="403.2" font-size="7" font-weight="normal" font-style="normal" fill="#333333" textLength="3.3" lengthAdjust="spacingAndGlyphs">0</text>
<line x1="442.25" y1="394.6" x2="442.25" y2="397.1" stroke="#404040" stroke-width="1.1"/>
<text x="438.95" y="403.2" font-size="7" font-weight="normal" font-style="normal" fill="#333333" textLength="6.6" lengthAdjust="spacingAndGlyphs">20</text>
<line x1="464.2" y1="394.6" x2="464.2" y2="397.1" stroke="#404040" stroke-width="1.1"/>
<text x="460.9" y="403.2" font-size="7" font-weight="normal" font-style="normal" fill="#333333" textLength="6.6" lengthAdjust="spacingAndGlyphs">40</text>
<line x1="486.15" y1="394.6" x2="486.15" y2="397.1" stroke="#404040" stroke-width="1.1"/>
<text x="482.85" y="403.2" font-size="7" font-weight="normal" font-style="normal" fill="#333333" textLength="6.6" lengthAdjust="spacingAndGlyphs">60</text>
<line x1="508.1" y1="394.6" x2="508.1" y2="397.1" stroke="#404040" stroke-width="1.1"/>
<text x="504.8" y="403.2" font-size="7" font-weight="normal" font-style="normal" fill="#333333" textLength="6.6" lengthAdjust="spacingAndGlyphs">80</text>
<text transform="translate(397.3 384.7) rotate(-90)" x="0" y="0" font-size="8.4" font-weight="normal" fill="#4a4a4a" textLength="40.3" lengthAdjust="spacingAndGlyphs">Fraction of Total</text>
<text transform="translate(406.5 384.2) rotate(-90)" x="0" y="0" font-size="8.4" font-weight="normal" fill="#4a4a4a" textLength="13.6" lengthAdjust="spacingAndGlyphs">CD45</text>
<text transform="translate(403.5 370.2) rotate(-90)" x="0" y="0" font-size="5" font-weight="normal" fill="#4a4a4a" textLength="2.2" lengthAdjust="spacingAndGlyphs">+</text>
<text transform="translate(406.5 367.4) rotate(-90)" x="0" y="0" font-size="8.4" font-weight="normal" fill="#4a4a4a" textLength="22.2" lengthAdjust="spacingAndGlyphs">PBMCs</text>
<line x1="35.7" y1="471.2" x2="35.7" y2="531.5" stroke="#404040" stroke-width="1.6"/>
<line x1="35" y1="530.9" x2="125.08" y2="530.9" stroke="#404040" stroke-width="1.7"/>
<line x1="33.6" y1="530.9" x2="35.7" y2="530.9" stroke="#404040" stroke-width="1"/>
<text x="28.8" y="532.5" font-size="7" font-weight="normal" font-style="normal" fill="#333333" textLength="3.5" lengthAdjust="spacingAndGlyphs">0</text>
<line x1="33.6" y1="511.13" x2="35.7" y2="511.13" stroke="#404040" stroke-width="1"/>
<text x="28.8" y="512.73" font-size="7" font-weight="normal" font-style="normal" fill="#333333" textLength="3.5" lengthAdjust="spacingAndGlyphs">5</text>
<line x1="33.6" y1="491.37" x2="35.7" y2="491.37" stroke="#404040" stroke-width="1"/>
<text x="25.5" y="492.97" font-size="7" font-weight="normal" font-style="normal" fill="#333333" textLength="6.8" lengthAdjust="spacingAndGlyphs">10</text>
<line x1="33.6" y1="471.6" x2="35.7" y2="471.6" stroke="#404040" stroke-width="1"/>
<text x="25.5" y="473.2" font-size="7" font-weight="normal" font-style="normal" fill="#333333" textLength="6.8" lengthAdjust="spacingAndGlyphs">15</text>
<line x1="35.7" y1="530.9" x2="35.7" y2="533.4" stroke="#404040" stroke-width="1.1"/>
<text x="34.05" y="539.5" font-size="7" font-weight="normal" font-style="normal" fill="#333333" textLength="3.3" lengthAdjust="spacingAndGlyphs">0</text>
<line x1="57.87" y1="530.9" x2="57.87" y2="533.4" stroke="#404040" stroke-width="1.1"/>
<text x="54.57" y="539.5" font-size="7" font-weight="normal" font-style="normal" fill="#333333" textLength="6.6" lengthAdjust="spacingAndGlyphs">20</text>
<line x1="80.04" y1="530.9" x2="80.04" y2="533.4" stroke="#404040" stroke-width="1.1"/>
<text x="76.74" y="539.5" font-size="7" font-weight="normal" font-style="normal" fill="#333333" textLength="6.6" lengthAdjust="spacingAndGlyphs">40</text>
<line x1="102.21" y1="530.9" x2="102.21" y2="533.4" stroke="#404040" stroke-width="1.1"/>
<text x="98.91" y="539.5" font-size="7" font-weight="normal" font-style="normal" fill="#333333" textLength="6.6" lengthAdjust="spacingAndGlyphs">60</text>
<line x1="124.38" y1="530.9" x2="124.38" y2="533.4" stroke="#404040" stroke-width="1.1"/>
<text x="121.08" y="539.5" font-size="7" font-weight="normal" font-style="normal" fill="#333333" textLength="6.6" lengthAdjust="spacingAndGlyphs">80</text>
<text transform="translate(14.9 521) rotate(-90)" x="0" y="0" font-size="8.4" font-weight="normal" fill="#4a4a4a" textLength="40.3" lengthAdjust="spacingAndGlyphs">Fraction of Total</text>
<text transform="translate(24.1 520.5) rotate(-90)" x="0" y="0" font-size="8.4" font-weight="normal" fill="#4a4a4a" textLength="13.6" lengthAdjust="spacingAndGlyphs">CD45</text>
<text transform="translate(21.1 506.5) rotate(-90)" x="0" y="0" font-size="5" font-weight="normal" fill="#4a4a4a" textLength="2.2" lengthAdjust="spacingAndGlyphs">+</text>
<text transform="translate(24.1 503.7) rotate(-90)" x="0" y="0" font-size="8.4" font-weight="normal" fill="#4a4a4a" textLength="22.2" lengthAdjust="spacingAndGlyphs">PBMCs</text>
<line x1="163.6" y1="470.6" x2="163.6" y2="531.5" stroke="#404040" stroke-width="1.6"/>
<line x1="162.9" y1="530.9" x2="252.7" y2="530.9" stroke="#404040" stroke-width="1.7"/>
<line x1="161.5" y1="530.9" x2="163.6" y2="530.9" stroke="#404040" stroke-width="1"/>
<text x="156.7" y="532.5" font-size="7" font-weight="normal" font-style="normal" fill="#333333" textLength="3.5" lengthAdjust="spacingAndGlyphs">0</text>
<line x1="161.5" y1="515.92" x2="163.6" y2="515.92" stroke="#404040" stroke-width="1"/>
<text x="156.7" y="517.52" font-size="7" font-weight="normal" font-style="normal" fill="#333333" textLength="3.5" lengthAdjust="spacingAndGlyphs">5</text>
<line x1="161.5" y1="500.95" x2="163.6" y2="500.95" stroke="#404040" stroke-width="1"/>
<text x="153.4" y="502.55" font-size="7" font-weight="normal" font-style="normal" fill="#333333" textLength="6.8" lengthAdjust="spacingAndGlyphs">10</text>
<line x1="161.5" y1="485.98" x2="163.6" y2="485.98" stroke="#404040" stroke-width="1"/>
<text x="153.4" y="487.58" font-size="7" font-weight="normal" font-style="normal" fill="#333333" textLength="6.8" lengthAdjust="spacingAndGlyphs">15</text>
<line x1="161.5" y1="471" x2="163.6" y2="471" stroke="#404040" stroke-width="1"/>
<text x="153.4" y="472.6" font-size="7" font-weight="normal" font-style="normal" fill="#333333" textLength="6.8" lengthAdjust="spacingAndGlyphs">20</text>
<line x1="163.6" y1="530.9" x2="163.6" y2="533.4" stroke="#404040" stroke-width="1.1"/>
<text x="161.95" y="539.5" font-size="7" font-weight="normal" font-style="normal" fill="#333333" textLength="3.3" lengthAdjust="spacingAndGlyphs">0</text>
<line x1="185.7" y1="530.9" x2="185.7" y2="533.4" stroke="#404040" stroke-width="1.1"/>
<text x="182.4" y="539.5" font-size="7" font-weight="normal" font-style="normal" fill="#333333" textLength="6.6" lengthAdjust="spacingAndGlyphs">20</text>
<line x1="207.8" y1="530.9" x2="207.8" y2="533.4" stroke="#404040" stroke-width="1.1"/>
<text x="204.5" y="539.5" font-size="7" font-weight="normal" font-style="normal" fill="#333333" textLength="6.6" lengthAdjust="spacingAndGlyphs">40</text>
<line x1="229.9" y1="530.9" x2="229.9" y2="533.4" stroke="#404040" stroke-width="1.1"/>
<text x="226.6" y="539.5" font-size="7" font-weight="normal" font-style="normal" fill="#333333" textLength="6.6" lengthAdjust="spacingAndGlyphs">60</text>
<line x1="252" y1="530.9" x2="252" y2="533.4" stroke="#404040" stroke-width="1.1"/>
<text x="248.7" y="539.5" font-size="7" font-weight="normal" font-style="normal" fill="#333333" textLength="6.6" lengthAdjust="spacingAndGlyphs">80</text>
<text transform="translate(142.6 521) rotate(-90)" x="0" y="0" font-size="8.4" font-weight="normal" fill="#4a4a4a" textLength="40.3" lengthAdjust="spacingAndGlyphs">Fraction of Total</text>
<text transform="translate(151.8 520.5) rotate(-90)" x="0" y="0" font-size="8.4" font-weight="normal" fill="#4a4a4a" textLength="13.6" lengthAdjust="spacingAndGlyphs">CD45</text>
<text transform="translate(148.8 506.5) rotate(-90)" x="0" y="0" font-size="5" font-weight="normal" fill="#4a4a4a" textLength="2.2" lengthAdjust="spacingAndGlyphs">+</text>
<text transform="translate(151.8 503.7) rotate(-90)" x="0" y="0" font-size="8.4" font-weight="normal" fill="#4a4a4a" textLength="22.2" lengthAdjust="spacingAndGlyphs">PBMCs</text>
<line x1="292.3" y1="471" x2="292.3" y2="531.5" stroke="#404040" stroke-width="1.6"/>
<line x1="291.6" y1="530.9" x2="381.6" y2="530.9" stroke="#404040" stroke-width="1.7"/>
<line x1="290.2" y1="530.9" x2="292.3" y2="530.9" stroke="#404040" stroke-width="1"/>
<text x="285.4" y="532.5" font-size="7" font-weight="normal" font-style="normal" fill="#333333" textLength="3.5" lengthAdjust="spacingAndGlyphs">0</text>
<line x1="290.2" y1="516.02" x2="292.3" y2="516.02" stroke="#404040" stroke-width="1"/>
<text x="285.4" y="517.62" font-size="7" font-weight="normal" font-style="normal" fill="#333333" textLength="3.5" lengthAdjust="spacingAndGlyphs">1</text>
<line x1="290.2" y1="501.15" x2="292.3" y2="501.15" stroke="#404040" stroke-width="1"/>
<text x="285.4" y="502.75" font-size="7" font-weight="normal" font-style="normal" fill="#333333" textLength="3.5" lengthAdjust="spacingAndGlyphs">2</text>
<line x1="290.2" y1="486.27" x2="292.3" y2="486.27" stroke="#404040" stroke-width="1"/>
<text x="285.4" y="487.88" font-size="7" font-weight="normal" font-style="normal" fill="#333333" textLength="3.5" lengthAdjust="spacingAndGlyphs">3</text>
<line x1="290.2" y1="471.4" x2="292.3" y2="471.4" stroke="#404040" stroke-width="1"/>
<text x="285.4" y="473" font-size="7" font-weight="normal" font-style="normal" fill="#333333" textLength="3.5" lengthAdjust="spacingAndGlyphs">4</text>
<line x1="292.3" y1="530.9" x2="292.3" y2="533.4" stroke="#404040" stroke-width="1.1"/>
<text x="290.65" y="539.5" font-size="7" font-weight="normal" font-style="normal" fill="#333333" textLength="3.3" lengthAdjust="spacingAndGlyphs">0</text>
<line x1="314.45" y1="530.9" x2="314.45" y2="533.4" stroke="#404040" stroke-width="1.1"/>
<text x="311.15" y="539.5" font-size="7" font-weight="normal" font-style="normal" fill="#333333" textLength="6.6" lengthAdjust="spacingAndGlyphs">20</text>
<line x1="336.6" y1="530.9" x2="336.6" y2="533.4" stroke="#404040" stroke-width="1.1"/>
<text x="333.3" y="539.5" font-size="7" font-weight="normal" font-style="normal" fill="#333333" textLength="6.6" lengthAdjust="spacingAndGlyphs">40</text>
<line x1="358.75" y1="530.9" x2="358.75" y2="533.4" stroke="#404040" stroke-width="1.1"/>
<text x="355.45" y="539.5" font-size="7" font-weight="normal" font-style="normal" fill="#333333" textLength="6.6" lengthAdjust="spacingAndGlyphs">60</text>
<line x1="380.9" y1="530.9" x2="380.9" y2="533.4" stroke="#404040" stroke-width="1.1"/>
<text x="377.6" y="539.5" font-size="7" font-weight="normal" font-style="normal" fill="#333333" textLength="6.6" lengthAdjust="spacingAndGlyphs">80</text>
<text transform="translate(270.3 521) rotate(-90)" x="0" y="0" font-size="8.4" font-weight="normal" fill="#4a4a4a" textLength="40.3" lengthAdjust="spacingAndGlyphs">Fraction of Total</text>
<text transform="translate(279.5 520.5) rotate(-90)" x="0" y="0" font-size="8.4" font-weight="normal" fill="#4a4a4a" textLength="13.6" lengthAdjust="spacingAndGlyphs">CD45</text>
<text transform="translate(276.5 506.5) rotate(-90)" x="0" y="0" font-size="5" font-weight="normal" fill="#4a4a4a" textLength="2.2" lengthAdjust="spacingAndGlyphs">+</text>
<text transform="translate(279.5 503.7) rotate(-90)" x="0" y="0" font-size="8.4" font-weight="normal" fill="#4a4a4a" textLength="22.2" lengthAdjust="spacingAndGlyphs">PBMCs</text>
<line x1="420.3" y1="471.4" x2="420.3" y2="531.5" stroke="#404040" stroke-width="1.6"/>
<line x1="419.6" y1="530.9" x2="508.8" y2="530.9" stroke="#404040" stroke-width="1.7"/>
<line x1="418.2" y1="530.9" x2="420.3" y2="530.9" stroke="#404040" stroke-width="1"/>
<text x="406.9" y="532.5" font-size="7" font-weight="normal" font-style="normal" fill="#333333" textLength="10" lengthAdjust="spacingAndGlyphs">0.0</text>
<line x1="418.2" y1="511.2" x2="420.3" y2="511.2" stroke="#404040" stroke-width="1"/>
<text x="406.9" y="512.8" font-size="7" font-weight="normal" font-style="normal" fill="#333333" textLength="10" lengthAdjust="spacingAndGlyphs">0.2</text>
<line x1="418.2" y1="491.5" x2="420.3" y2="491.5" stroke="#404040" stroke-width="1"/>
<text x="406.9" y="493.1" font-size="7" font-weight="normal" font-style="normal" fill="#333333" textLength="10" lengthAdjust="spacingAndGlyphs">0.4</text>
<line x1="418.2" y1="471.8" x2="420.3" y2="471.8" stroke="#404040" stroke-width="1"/>
<text x="406.9" y="473.4" font-size="7" font-weight="normal" font-style="normal" fill="#333333" textLength="10" lengthAdjust="spacingAndGlyphs">0.6</text>
<line x1="420.3" y1="530.9" x2="420.3" y2="533.4" stroke="#404040" stroke-width="1.1"/>
<text x="418.65" y="539.5" font-size="7" font-weight="normal" font-style="normal" fill="#333333" textLength="3.3" lengthAdjust="spacingAndGlyphs">0</text>
<line x1="442.25" y1="530.9" x2="442.25" y2="533.4" stroke="#404040" stroke-width="1.1"/>
<text x="438.95" y="539.5" font-size="7" font-weight="normal" font-style="normal" fill="#333333" textLength="6.6" lengthAdjust="spacingAndGlyphs">20</text>
<line x1="464.2" y1="530.9" x2="464.2" y2="533.4" stroke="#404040" stroke-width="1.1"/>
<text x="460.9" y="539.5" font-size="7" font-weight="normal" font-style="normal" fill="#333333" textLength="6.6" lengthAdjust="spacingAndGlyphs">40</text>
<line x1="486.15" y1="530.9" x2="486.15" y2="533.4" stroke="#404040" stroke-width="1.1"/>
<text x="482.85" y="539.5" font-size="7" font-weight="normal" font-style="normal" fill="#333333" textLength="6.6" lengthAdjust="spacingAndGlyphs">60</text>
<line x1="508.1" y1="530.9" x2="508.1" y2="533.4" stroke="#404040" stroke-width="1.1"/>
<text x="504.8" y="539.5" font-size="7" font-weight="normal" font-style="normal" fill="#333333" textLength="6.6" lengthAdjust="spacingAndGlyphs">80</text>
<text transform="translate(397.3 521) rotate(-90)" x="0" y="0" font-size="8.4" font-weight="normal" fill="#4a4a4a" textLength="40.3" lengthAdjust="spacingAndGlyphs">Fraction of Total</text>
<text transform="translate(406.5 520.5) rotate(-90)" x="0" y="0" font-size="8.4" font-weight="normal" fill="#4a4a4a" textLength="13.6" lengthAdjust="spacingAndGlyphs">CD45</text>
<text transform="translate(403.5 506.5) rotate(-90)" x="0" y="0" font-size="5" font-weight="normal" fill="#4a4a4a" textLength="2.2" lengthAdjust="spacingAndGlyphs">+</text>
<text transform="translate(406.5 503.7) rotate(-90)" x="0" y="0" font-size="8.4" font-weight="normal" fill="#4a4a4a" textLength="22.2" lengthAdjust="spacingAndGlyphs">PBMCs</text>
<text x="52.1" y="316.2" font-size="9.1" font-weight="normal" font-style="normal" fill="#1a1a1a" stroke="#1a1a1a" stroke-width="0.22" textLength="21.2" lengthAdjust="spacingAndGlyphs">B-cell</text>
<text x="75.3" y="316.2" font-size="9.1" font-weight="normal" font-style="normal" fill="#1a1a1a" stroke="#1a1a1a" stroke-width="0.22" textLength="31.6" lengthAdjust="spacingAndGlyphs">Fraction</text>
<text x="175.6" y="316.2" font-size="9.1" font-weight="normal" font-style="normal" fill="#1a1a1a" stroke="#1a1a1a" stroke-width="0.22" textLength="11.7" lengthAdjust="spacingAndGlyphs">NK</text>
<text x="189.1" y="316.2" font-size="9.1" font-weight="normal" font-style="normal" fill="#1a1a1a" stroke="#1a1a1a" stroke-width="0.22" textLength="13.7" lengthAdjust="spacingAndGlyphs">cell</text>
<text x="204.6" y="316.2" font-size="9.1" font-weight="normal" font-style="normal" fill="#1a1a1a" stroke="#1a1a1a" stroke-width="0.22" textLength="32.5" lengthAdjust="spacingAndGlyphs">Fraction</text>
<text x="309" y="317.2" font-size="9.1" font-weight="normal" font-style="normal" fill="#1a1a1a" stroke="#1a1a1a" stroke-width="0.22" textLength="20.2" lengthAdjust="spacingAndGlyphs">NK-T</text>
<text x="331" y="317.2" font-size="9.1" font-weight="normal" font-style="normal" fill="#1a1a1a" stroke="#1a1a1a" stroke-width="0.22" textLength="13.8" lengthAdjust="spacingAndGlyphs">cell</text>
<text x="346.1" y="317.2" font-size="9.1" font-weight="normal" font-style="normal" fill="#1a1a1a" stroke="#1a1a1a" stroke-width="0.22" textLength="32" lengthAdjust="spacingAndGlyphs">Fraction</text>
<text x="425.8" y="315.8" font-size="9.1" font-weight="normal" font-style="normal" fill="#1a1a1a" stroke="#1a1a1a" stroke-width="0.22" textLength="33.1" lengthAdjust="spacingAndGlyphs">Classical</text>
<text x="460.4" y="315.8" font-size="9.1" font-weight="normal" font-style="normal" fill="#1a1a1a" stroke="#1a1a1a" stroke-width="0.22" textLength="38.9" lengthAdjust="spacingAndGlyphs">Monocyte</text>
<text x="447.7" y="326" font-size="9.1" font-weight="normal" font-style="normal" fill="#1a1a1a" stroke="#1a1a1a" stroke-width="0.22" textLength="31.3" lengthAdjust="spacingAndGlyphs">Fraction</text>
<text x="47.5" y="455.8" font-size="9.1" font-weight="normal" font-style="normal" fill="#1a1a1a" stroke="#1a1a1a" stroke-width="0.22" textLength="34.5" lengthAdjust="spacingAndGlyphs">Resident</text>
<text x="83.8" y="455.8" font-size="9.1" font-weight="normal" font-style="normal" fill="#1a1a1a" stroke="#1a1a1a" stroke-width="0.22" textLength="38.3" lengthAdjust="spacingAndGlyphs">Monocyte</text>
<text x="70.4" y="466" font-size="9.1" font-weight="normal" font-style="normal" fill="#1a1a1a" stroke="#1a1a1a" stroke-width="0.22" textLength="30.9" lengthAdjust="spacingAndGlyphs">Fraction</text>
<text x="173.7" y="455.8" font-size="9.1" font-weight="normal" font-style="normal" fill="#1a1a1a" stroke="#1a1a1a" stroke-width="0.22" textLength="38.5" lengthAdjust="spacingAndGlyphs">Transition</text>
<text x="213.7" y="455.8" font-size="9.1" font-weight="normal" font-style="normal" fill="#1a1a1a" stroke="#1a1a1a" stroke-width="0.22" textLength="37.7" lengthAdjust="spacingAndGlyphs">Monocyte</text>
<text x="198.2" y="466" font-size="9.1" font-weight="normal" font-style="normal" fill="#1a1a1a" stroke="#1a1a1a" stroke-width="0.22" textLength="31.1" lengthAdjust="spacingAndGlyphs">Fraction</text>
<text x="305" y="455.8" font-size="9.1" font-weight="normal" font-style="normal" fill="#1a1a1a" stroke="#1a1a1a" stroke-width="0.22" textLength="31.7" lengthAdjust="spacingAndGlyphs">Myeloid</text>
<text x="338.1" y="455.8" font-size="9.1" font-weight="normal" font-style="normal" fill="#1a1a1a" stroke="#1a1a1a" stroke-width="0.22" textLength="35.9" lengthAdjust="spacingAndGlyphs">Dendritic</text>
<text x="315.8" y="466" font-size="9.1" font-weight="normal" font-style="normal" fill="#1a1a1a" stroke="#1a1a1a" stroke-width="0.22" textLength="13.2" lengthAdjust="spacingAndGlyphs">Cell</text>
<text x="331.1" y="466" font-size="9.1" font-weight="normal" font-style="normal" fill="#1a1a1a" stroke="#1a1a1a" stroke-width="0.22" textLength="33.2" lengthAdjust="spacingAndGlyphs">Fraction</text>
<text x="423.6" y="455.8" font-size="9.1" font-weight="normal" font-style="normal" fill="#1a1a1a" stroke="#1a1a1a" stroke-width="0.22" textLength="50.3" lengthAdjust="spacingAndGlyphs">Plasmacytoid</text>
<text x="475.4" y="455.8" font-size="9.1" font-weight="normal" font-style="normal" fill="#1a1a1a" stroke="#1a1a1a" stroke-width="0.22" textLength="36.5" lengthAdjust="spacingAndGlyphs">Dendritic</text>
<text x="445.2" y="466" font-size="9.1" font-weight="normal" font-style="normal" fill="#1a1a1a" stroke="#1a1a1a" stroke-width="0.22" textLength="12.8" lengthAdjust="spacingAndGlyphs">Cell</text>
<text x="460.7" y="466" font-size="9.1" font-weight="normal" font-style="normal" fill="#1a1a1a" stroke="#1a1a1a" stroke-width="0.22" textLength="33.8" lengthAdjust="spacingAndGlyphs">Fraction</text>
<text x="50.6" y="415.9" font-size="8.7" font-weight="normal" font-style="normal" fill="#333333" textLength="32.2" lengthAdjust="spacingAndGlyphs">CD4%CD57</text>
<text x="83.1" y="412.9" font-size="5.2" font-weight="normal" font-style="normal" fill="#333333" textLength="2.8" lengthAdjust="spacingAndGlyphs">+</text>
<text x="85.9" y="415.9" font-size="8.7" font-weight="normal" font-style="normal" fill="#333333" textLength="17.5" lengthAdjust="spacingAndGlyphs">/CD27</text>
<line x1="104.6" y1="412.2" x2="107.2" y2="412.2" stroke="#333333" stroke-width="0.7"/>
<text x="52" y="552.6" font-size="8.7" font-weight="normal" font-style="normal" fill="#333333" textLength="32.2" lengthAdjust="spacingAndGlyphs">CD4%CD57</text>
<text x="84.5" y="549.6" font-size="5.2" font-weight="normal" font-style="normal" fill="#333333" textLength="2.8" lengthAdjust="spacingAndGlyphs">+</text>
<text x="87.3" y="552.6" font-size="8.7" font-weight="normal" font-style="normal" fill="#333333" textLength="17.5" lengthAdjust="spacingAndGlyphs">/CD27</text>
<line x1="106" y1="548.9" x2="108.6" y2="548.9" stroke="#333333" stroke-width="0.7"/>
<line x1="120.6" y1="413.1" x2="490.5" y2="413.1" stroke="#333" stroke-width="1.7"/>
<path d="M489.7 410.2 L494 413.1 L489.7 416 Z" fill="#111"/>
<line x1="119.6" y1="549.6" x2="490.5" y2="549.6" stroke="#333" stroke-width="1.7"/>
<path d="M489.7 546.7 L494 549.6 L489.7 552.5 Z" fill="#111"/>
<text x="58.8" y="344" font-size="6.2" font-weight="normal" font-style="normal" fill="#333333" stroke="#333333" stroke-width="0.15" textLength="2.4" lengthAdjust="spacingAndGlyphs">r</text>
<text x="61.1" y="346.5" font-size="5.4" font-weight="normal" font-style="normal" fill="#444" textLength="24.8" lengthAdjust="spacingAndGlyphs">spearman</text>
<text x="87" y="344" font-size="6.2" font-weight="normal" font-style="normal" fill="#333333" stroke="#333333" stroke-width="0.15" textLength="22" lengthAdjust="spacingAndGlyphs">= −0.09</text>
<text x="181.8" y="341.7" font-size="6" font-weight="normal" font-style="normal" fill="#333333" stroke="#333333" stroke-width="0.15" textLength="2.4" lengthAdjust="spacingAndGlyphs">r</text>
<text x="184.1" y="344.6" font-size="5.4" font-weight="normal" font-style="normal" fill="#444" textLength="24.2" lengthAdjust="spacingAndGlyphs">spearman</text>
<text x="209.4" y="341.7" font-size="6" font-weight="normal" font-style="normal" fill="#333333" stroke="#333333" stroke-width="0.15" textLength="19.2" lengthAdjust="spacingAndGlyphs">= −0.21</text>
<text x="302.1" y="342.2" font-size="6" font-weight="normal" font-style="normal" fill="#333333" stroke="#333333" stroke-width="0.15" textLength="2.4" lengthAdjust="spacingAndGlyphs">r</text>
<text x="304.4" y="345.1" font-size="5.4" font-weight="normal" font-style="normal" fill="#444" textLength="24.2" lengthAdjust="spacingAndGlyphs">spearman</text>
<text x="329.7" y="342.2" font-size="6" font-weight="normal" font-style="normal" fill="#333333" stroke="#333333" stroke-width="0.15" textLength="15.7" lengthAdjust="spacingAndGlyphs">= 0.20</text>
<text x="458.8" y="341.7" font-size="6" font-weight="normal" font-style="normal" fill="#333333" stroke="#333333" stroke-width="0.15" textLength="2.4" lengthAdjust="spacingAndGlyphs">r</text>
<text x="461.1" y="344.6" font-size="5.4" font-weight="normal" font-style="normal" fill="#444" textLength="24.8" lengthAdjust="spacingAndGlyphs">spearman</text>
<text x="486.4" y="341.7" font-size="6" font-weight="normal" font-style="normal" fill="#333333" stroke="#333333" stroke-width="0.15" textLength="20.5" lengthAdjust="spacingAndGlyphs">= −0.41*</text>
<text x="463" y="350" font-size="6" font-weight="normal" font-style="normal" fill="#333333" stroke="#333333" stroke-width="0.15" textLength="25.4" lengthAdjust="spacingAndGlyphs">p&lt;0.0001*</text>
<text x="59.8" y="479.8" font-size="6" font-weight="normal" font-style="normal" fill="#333333" stroke="#333333" stroke-width="0.15" textLength="2.4" lengthAdjust="spacingAndGlyphs">r</text>
<text x="62.1" y="482.7" font-size="5.4" font-weight="normal" font-style="normal" fill="#444" textLength="24.4" lengthAdjust="spacingAndGlyphs">spearman</text>
<text x="87.4" y="479.8" font-size="6" font-weight="normal" font-style="normal" fill="#333333" stroke="#333333" stroke-width="0.15" textLength="18.8" lengthAdjust="spacingAndGlyphs">= −0.04</text>
<text x="185.3" y="479.8" font-size="6" font-weight="normal" font-style="normal" fill="#333333" stroke="#333333" stroke-width="0.15" textLength="2.4" lengthAdjust="spacingAndGlyphs">r</text>
<text x="187.6" y="482.7" font-size="5.4" font-weight="normal" font-style="normal" fill="#444" textLength="24.1" lengthAdjust="spacingAndGlyphs">spearman</text>
<text x="212.6" y="479.8" font-size="6" font-weight="normal" font-style="normal" fill="#333333" stroke="#333333" stroke-width="0.15" textLength="18.8" lengthAdjust="spacingAndGlyphs">= −0.11</text>
<text x="318.6" y="478.7" font-size="6" font-weight="normal" font-style="normal" fill="#333333" stroke="#333333" stroke-width="0.15" textLength="2.4" lengthAdjust="spacingAndGlyphs">r</text>
<text x="321" y="481.6" font-size="5.4" font-weight="normal" font-style="normal" fill="#444" textLength="24.4" lengthAdjust="spacingAndGlyphs">spearman</text>
<text x="346" y="478.7" font-size="6" font-weight="normal" font-style="normal" fill="#333333" stroke="#333333" stroke-width="0.15" textLength="19.1" lengthAdjust="spacingAndGlyphs">= −0.25</text>
<text x="331.3" y="488" font-size="6" font-weight="normal" font-style="normal" fill="#333333" stroke="#333333" stroke-width="0.15" textLength="24.2" lengthAdjust="spacingAndGlyphs">p = 0.024*</text>
<text x="445" y="479.2" font-size="6" font-weight="normal" font-style="normal" fill="#333333" stroke="#333333" stroke-width="0.15" textLength="2.4" lengthAdjust="spacingAndGlyphs">r</text>
<text x="447" y="482.2" font-size="5.4" font-weight="normal" font-style="normal" fill="#444" textLength="24.2" lengthAdjust="spacingAndGlyphs">spearman</text>
<text x="471.7" y="479.2" font-size="6" font-weight="normal" font-style="normal" fill="#333333" stroke="#333333" stroke-width="0.15" textLength="19.4" lengthAdjust="spacingAndGlyphs">= −0.34</text>
<text x="457.9" y="489" font-size="6" font-weight="normal" font-style="normal" fill="#333333" stroke="#333333" stroke-width="0.15" textLength="26.5" lengthAdjust="spacingAndGlyphs">p = 0.0014*</text>
<line x1="420.3" y1="372" x2="500" y2="391.5" stroke="#222" stroke-width="1.2"/>
<line x1="292.3" y1="517.4" x2="372.8" y2="528.1" stroke="#222" stroke-width="1.2"/>
<line x1="420.3" y1="509.3" x2="499" y2="530.3" stroke="#222" stroke-width="1.2"/>
<circle cx="47.3" cy="342.9" r="1.07" fill="#c8001e"/>
<circle cx="65.4" cy="359.9" r="1.07" fill="#c8001e"/>
<circle cx="56" cy="363.2" r="1.07" fill="#c8001e"/>
<circle cx="59.6" cy="369.1" r="1.07" fill="#c8001e"/>
<circle cx="41.3" cy="356.3" r="1.07" fill="#c8001e"/>
<circle cx="40.5" cy="357.1" r="1.07" fill="#c8001e"/>
<circle cx="39.9" cy="357.9" r="1.07" fill="#c8001e"/>
<circle cx="39.4" cy="358.3" r="1.07" fill="#c8001e"/>
<circle cx="44.2" cy="359.3" r="1.07" fill="#c8001e"/>
<circle cx="41.3" cy="363" r="1.07" fill="#c8001e"/>
<circle cx="44.4" cy="364.2" r="1.07" fill="#c8001e"/>
<circle cx="37.9" cy="365.4" r="1.07" fill="#c8001e"/>
<circle cx="40.5" cy="368.5" r="1.07" fill="#c8001e"/>
<circle cx="36.9" cy="368.9" r="1.07" fill="#c8001e"/>
<circle cx="36.8" cy="369.9" r="1.07" fill="#c8001e"/>
<circle cx="38.9" cy="370.9" r="1.07" fill="#c8001e"/>
<circle cx="40.1" cy="371.7" r="1.07" fill="#c8001e"/>
<circle cx="40.9" cy="371.3" r="1.07" fill="#c8001e"/>
<circle cx="38.5" cy="372.3" r="1.07" fill="#c8001e"/>
<circle cx="37.7" cy="373.2" r="1.07" fill="#c8001e"/>
<circle cx="39.3" cy="372.8" r="1.07" fill="#c8001e"/>
<circle cx="44.4" cy="375" r="1.07" fill="#c8001e"/>
<circle cx="44" cy="377.3" r="1.07" fill="#c8001e"/>
<circle cx="38.7" cy="376.8" r="1.07" fill="#c8001e"/>
<circle cx="48.6" cy="376.5" r="1.07" fill="#c8001e"/>
<circle cx="57.4" cy="377.5" r="1.07" fill="#c8001e"/>
<circle cx="41.8" cy="379.5" r="1.07" fill="#c8001e"/>
<circle cx="37.7" cy="379.9" r="1.07" fill="#c8001e"/>
<circle cx="38.7" cy="380.7" r="1.07" fill="#c8001e"/>
<circle cx="39.7" cy="381.2" r="1.07" fill="#c8001e"/>
<circle cx="36.1" cy="381.7" r="1.07" fill="#c8001e"/>
<circle cx="36.5" cy="382.8" r="1.07" fill="#c8001e"/>
<circle cx="37.1" cy="383.8" r="1.07" fill="#c8001e"/>
<circle cx="54.6" cy="380.7" r="1.07" fill="#c8001e"/>
<circle cx="57" cy="384.1" r="1.07" fill="#c8001e"/>
<circle cx="46.2" cy="382.7" r="1.07" fill="#c8001e"/>
<circle cx="47.2" cy="383.8" r="1.07" fill="#c8001e"/>
<circle cx="41.3" cy="384.4" r="1.07" fill="#c8001e"/>
<circle cx="38.1" cy="385.4" r="1.07" fill="#c8001e"/>
<circle cx="38.9" cy="386.4" r="1.07" fill="#c8001e"/>
<circle cx="51.9" cy="386.2" r="1.07" fill="#c8001e"/>
<circle cx="50.3" cy="388" r="1.07" fill="#c8001e"/>
<circle cx="49.5" cy="387.8" r="1.07" fill="#c8001e"/>
<circle cx="56.6" cy="387.2" r="1.07" fill="#c8001e"/>
<circle cx="40.7" cy="387" r="1.07" fill="#c8001e"/>
<circle cx="40.7" cy="388.2" r="1.07" fill="#c8001e"/>
<circle cx="41.3" cy="389" r="1.07" fill="#c8001e"/>
<circle cx="36.9" cy="387.2" r="1.07" fill="#c8001e"/>
<circle cx="37.3" cy="389" r="1.07" fill="#c8001e"/>
<circle cx="37.9" cy="389.7" r="1.07" fill="#c8001e"/>
<circle cx="55.8" cy="391.7" r="1.07" fill="#c8001e"/>
<circle cx="39.7" cy="390.5" r="1.07" fill="#c8001e"/>
<circle cx="41.3" cy="390.7" r="1.07" fill="#c8001e"/>
<circle cx="36.5" cy="392.1" r="1.07" fill="#c8001e"/>
<circle cx="37.7" cy="392.9" r="1.07" fill="#c8001e"/>
<circle cx="38.9" cy="393.3" r="1.07" fill="#c8001e"/>
<circle cx="41.6" cy="393.5" r="1.07" fill="#c8001e"/>
<circle cx="42.4" cy="393.7" r="1.07" fill="#c8001e"/>
<circle cx="36.1" cy="393.7" r="1.07" fill="#c8001e"/>
<circle cx="51.9" cy="394.4" r="1.07" fill="#c8001e"/>
<circle cx="60.6" cy="393.5" r="1.07" fill="#c8001e"/>
<circle cx="66.9" cy="392.1" r="1.07" fill="#c8001e"/>
<circle cx="67.5" cy="393.7" r="1.07" fill="#c8001e"/>
<circle cx="70.3" cy="393.1" r="1.07" fill="#c8001e"/>
<circle cx="63.8" cy="377.4" r="1.07" fill="#c8001e"/>
<circle cx="61.3" cy="380.9" r="1.07" fill="#c8001e"/>
<circle cx="63.8" cy="384.9" r="1.07" fill="#c8001e"/>
<circle cx="60.3" cy="369.3" r="1.07" fill="#c8001e"/>
<circle cx="72.5" cy="379.5" r="1.07" fill="#c8001e"/>
<circle cx="73" cy="380.2" r="1.07" fill="#c8001e"/>
<circle cx="75.2" cy="381.4" r="1.07" fill="#c8001e"/>
<circle cx="76.8" cy="384.8" r="1.07" fill="#c8001e"/>
<circle cx="82.6" cy="375.8" r="1.07" fill="#c8001e"/>
<circle cx="93.4" cy="380" r="1.07" fill="#c8001e"/>
<circle cx="99" cy="388.4" r="1.07" fill="#c8001e"/>
<circle cx="111.3" cy="384.7" r="1.07" fill="#c8001e"/>
<circle cx="116.4" cy="388" r="1.07" fill="#c8001e"/>
<circle cx="83.1" cy="392.5" r="1.07" fill="#c8001e"/>
<circle cx="91.6" cy="392.7" r="1.07" fill="#c8001e"/>
<circle cx="67" cy="392.2" r="1.07" fill="#c8001e"/>
<circle cx="70.8" cy="393" r="1.07" fill="#c8001e"/>
<circle cx="69.7" cy="393.9" r="1.07" fill="#c8001e"/>
<circle cx="66.5" cy="393.9" r="1.07" fill="#c8001e"/>
<circle cx="60.7" cy="393.9" r="1.07" fill="#c8001e"/>
<circle cx="165.8" cy="361.9" r="1.07" fill="#c8001e"/>
<circle cx="174.5" cy="362.3" r="1.07" fill="#c8001e"/>
<circle cx="169.4" cy="364.7" r="1.07" fill="#c8001e"/>
<circle cx="168.7" cy="365.6" r="1.07" fill="#c8001e"/>
<circle cx="168.3" cy="366.1" r="1.07" fill="#c8001e"/>
<circle cx="175.5" cy="366.1" r="1.07" fill="#c8001e"/>
<circle cx="177.8" cy="368" r="1.07" fill="#c8001e"/>
<circle cx="166" cy="368.2" r="1.07" fill="#c8001e"/>
<circle cx="165.5" cy="373.7" r="1.07" fill="#c8001e"/>
<circle cx="166.3" cy="374.4" r="1.07" fill="#c8001e"/>
<circle cx="166.9" cy="375.5" r="1.07" fill="#c8001e"/>
<circle cx="169.6" cy="374.9" r="1.07" fill="#c8001e"/>
<circle cx="175.5" cy="376.2" r="1.07" fill="#c8001e"/>
<circle cx="180" cy="374.9" r="1.07" fill="#c8001e"/>
<circle cx="189.2" cy="374.9" r="1.07" fill="#c8001e"/>
<circle cx="165" cy="378.8" r="1.07" fill="#c8001e"/>
<circle cx="168" cy="379.2" r="1.07" fill="#c8001e"/>
<circle cx="166.9" cy="380.2" r="1.07" fill="#c8001e"/>
<circle cx="169.1" cy="380.2" r="1.07" fill="#c8001e"/>
<circle cx="165.4" cy="381.3" r="1.07" fill="#c8001e"/>
<circle cx="168.3" cy="381.3" r="1.07" fill="#c8001e"/>
<circle cx="169.8" cy="381.7" r="1.07" fill="#c8001e"/>
<circle cx="170.9" cy="382.4" r="1.07" fill="#c8001e"/>
<circle cx="176.7" cy="381.1" r="1.07" fill="#c8001e"/>
<circle cx="180.2" cy="381.1" r="1.07" fill="#c8001e"/>
<circle cx="165.8" cy="383.2" r="1.07" fill="#c8001e"/>
<circle cx="167.2" cy="383.9" r="1.07" fill="#c8001e"/>
<circle cx="168.3" cy="384.3" r="1.07" fill="#c8001e"/>
<circle cx="169.8" cy="383.9" r="1.07" fill="#c8001e"/>
<circle cx="166.9" cy="385" r="1.07" fill="#c8001e"/>
<circle cx="165.4" cy="385.7" r="1.07" fill="#c8001e"/>
<circle cx="168.3" cy="385.7" r="1.07" fill="#c8001e"/>
<circle cx="169.8" cy="386.1" r="1.07" fill="#c8001e"/>
<circle cx="166.5" cy="387.2" r="1.07" fill="#c8001e"/>
<circle cx="168" cy="387.6" r="1.07" fill="#c8001e"/>
<circle cx="170.9" cy="386.8" r="1.07" fill="#c8001e"/>
<circle cx="172.7" cy="385.3" r="1.07" fill="#c8001e"/>
<circle cx="172.3" cy="387.2" r="1.07" fill="#c8001e"/>
<circle cx="172" cy="388.6" r="1.07" fill="#c8001e"/>
<circle cx="165.8" cy="389.4" r="1.07" fill="#c8001e"/>
<circle cx="167.6" cy="390.1" r="1.07" fill="#c8001e"/>
<circle cx="169.1" cy="389.7" r="1.07" fill="#c8001e"/>
<circle cx="168" cy="391.6" r="1.07" fill="#c8001e"/>
<circle cx="165.4" cy="390.8" r="1.07" fill="#c8001e"/>
<circle cx="172.3" cy="390.8" r="1.07" fill="#c8001e"/>
<circle cx="179.1" cy="389.5" r="1.07" fill="#c8001e"/>
<circle cx="183" cy="387.6" r="1.07" fill="#c8001e"/>
<circle cx="183.7" cy="388.1" r="1.07" fill="#c8001e"/>
<circle cx="184.4" cy="388.8" r="1.07" fill="#c8001e"/>
<circle cx="185.1" cy="390.1" r="1.07" fill="#c8001e"/>
<circle cx="185.9" cy="391.2" r="1.07" fill="#c8001e"/>
<circle cx="185.5" cy="391.9" r="1.07" fill="#c8001e"/>
<circle cx="188.1" cy="387.6" r="1.07" fill="#c8001e"/>
<circle cx="189.2" cy="387.2" r="1.07" fill="#c8001e"/>
<circle cx="189.9" cy="386.8" r="1.07" fill="#c8001e"/>
<circle cx="190.3" cy="387.6" r="1.07" fill="#c8001e"/>
<circle cx="194.9" cy="383.4" r="1.07" fill="#c8001e"/>
<circle cx="219.7" cy="369.1" r="1.07" fill="#c8001e"/>
<circle cx="210.8" cy="374.8" r="1.07" fill="#c8001e"/>
<circle cx="205.1" cy="376.6" r="1.07" fill="#c8001e"/>
<circle cx="227.2" cy="376.2" r="1.07" fill="#c8001e"/>
<circle cx="189.5" cy="387.2" r="1.07" fill="#c8001e"/>
<circle cx="191.5" cy="386.2" r="1.07" fill="#c8001e"/>
<circle cx="192.3" cy="387.7" r="1.07" fill="#c8001e"/>
<circle cx="193.8" cy="388.5" r="1.07" fill="#c8001e"/>
<circle cx="195.4" cy="389.2" r="1.07" fill="#c8001e"/>
<circle cx="198.9" cy="386.2" r="1.07" fill="#c8001e"/>
<circle cx="200.8" cy="387.7" r="1.07" fill="#c8001e"/>
<circle cx="201.5" cy="390.5" r="1.07" fill="#c8001e"/>
<circle cx="203" cy="391.8" r="1.07" fill="#c8001e"/>
<circle cx="211.5" cy="386.3" r="1.07" fill="#c8001e"/>
<circle cx="221.5" cy="387.2" r="1.07" fill="#c8001e"/>
<circle cx="239.7" cy="391.8" r="1.07" fill="#c8001e"/>
<circle cx="244.6" cy="389.8" r="1.07" fill="#c8001e"/>
<circle cx="347.7" cy="347.7" r="1.07" fill="#c8001e"/>
<circle cx="312.9" cy="367.2" r="1.07" fill="#c8001e"/>
<circle cx="317.3" cy="368.4" r="1.07" fill="#c8001e"/>
<circle cx="333.1" cy="371.2" r="1.07" fill="#c8001e"/>
<circle cx="328.9" cy="377.7" r="1.07" fill="#c8001e"/>
<circle cx="326.9" cy="379.2" r="1.07" fill="#c8001e"/>
<circle cx="319.8" cy="380.2" r="1.07" fill="#c8001e"/>
<circle cx="294.9" cy="379.3" r="1.07" fill="#c8001e"/>
<circle cx="293.5" cy="381.2" r="1.07" fill="#c8001e"/>
<circle cx="294.1" cy="382.2" r="1.07" fill="#c8001e"/>
<circle cx="295.1" cy="382.5" r="1.07" fill="#c8001e"/>
<circle cx="293.2" cy="382.8" r="1.07" fill="#c8001e"/>
<circle cx="307.3" cy="380.4" r="1.07" fill="#c8001e"/>
<circle cx="302.6" cy="382.2" r="1.07" fill="#c8001e"/>
<circle cx="297.7" cy="383.9" r="1.07" fill="#c8001e"/>
<circle cx="300.7" cy="384.7" r="1.07" fill="#c8001e"/>
<circle cx="301.1" cy="385.6" r="1.07" fill="#c8001e"/>
<circle cx="305.7" cy="383.9" r="1.07" fill="#c8001e"/>
<circle cx="308.3" cy="383.8" r="1.07" fill="#c8001e"/>
<circle cx="311" cy="384.7" r="1.07" fill="#c8001e"/>
<circle cx="313.3" cy="383" r="1.07" fill="#c8001e"/>
<circle cx="292.5" cy="385.7" r="1.07" fill="#c8001e"/>
<circle cx="294.8" cy="386.7" r="1.07" fill="#c8001e"/>
<circle cx="296.1" cy="386.3" r="1.07" fill="#c8001e"/>
<circle cx="297" cy="387" r="1.07" fill="#c8001e"/>
<circle cx="298" cy="387.6" r="1.07" fill="#c8001e"/>
<circle cx="294.1" cy="387.6" r="1.07" fill="#c8001e"/>
<circle cx="295.4" cy="388.3" r="1.07" fill="#c8001e"/>
<circle cx="311.8" cy="387.3" r="1.07" fill="#c8001e"/>
<circle cx="313.1" cy="387.3" r="1.07" fill="#c8001e"/>
<circle cx="316" cy="388.6" r="1.07" fill="#c8001e"/>
<circle cx="317.3" cy="388.3" r="1.07" fill="#c8001e"/>
<circle cx="293.5" cy="389.2" r="1.07" fill="#c8001e"/>
<circle cx="295.4" cy="389.6" r="1.07" fill="#c8001e"/>
<circle cx="297.4" cy="389.6" r="1.07" fill="#c8001e"/>
<circle cx="299" cy="389.9" r="1.07" fill="#c8001e"/>
<circle cx="300.2" cy="389.7" r="1.07" fill="#c8001e"/>
<circle cx="294.5" cy="390.8" r="1.07" fill="#c8001e"/>
<circle cx="296.4" cy="390.8" r="1.07" fill="#c8001e"/>
<circle cx="298.6" cy="390.8" r="1.07" fill="#c8001e"/>
<circle cx="300.2" cy="391.2" r="1.07" fill="#c8001e"/>
<circle cx="304.7" cy="390.3" r="1.07" fill="#c8001e"/>
<circle cx="308" cy="389.8" r="1.07" fill="#c8001e"/>
<circle cx="293.5" cy="392.1" r="1.07" fill="#c8001e"/>
<circle cx="295.4" cy="392.5" r="1.07" fill="#c8001e"/>
<circle cx="297" cy="392.8" r="1.07" fill="#c8001e"/>
<circle cx="294.5" cy="393.4" r="1.07" fill="#c8001e"/>
<circle cx="296.1" cy="393.7" r="1.07" fill="#c8001e"/>
<circle cx="293.2" cy="394.1" r="1.07" fill="#c8001e"/>
<circle cx="303.5" cy="392.5" r="1.07" fill="#c8001e"/>
<circle cx="303.8" cy="394.1" r="1.07" fill="#c8001e"/>
<circle cx="312.5" cy="392.5" r="1.07" fill="#c8001e"/>
<circle cx="317.6" cy="392.8" r="1.07" fill="#c8001e"/>
<circle cx="320" cy="388.8" r="1.07" fill="#c8001e"/>
<circle cx="321.5" cy="388.2" r="1.07" fill="#c8001e"/>
<circle cx="323.5" cy="387.4" r="1.07" fill="#c8001e"/>
<circle cx="331.2" cy="388.9" r="1.07" fill="#c8001e"/>
<circle cx="338.8" cy="388.9" r="1.07" fill="#c8001e"/>
<circle cx="349.7" cy="386.6" r="1.07" fill="#c8001e"/>
<circle cx="367.7" cy="384.6" r="1.07" fill="#c8001e"/>
<circle cx="372.6" cy="383.8" r="1.07" fill="#c8001e"/>
<circle cx="323.1" cy="393.5" r="1.07" fill="#c8001e"/>
<circle cx="325.8" cy="391.1" r="1.07" fill="#c8001e"/>
<circle cx="328.9" cy="391.8" r="1.07" fill="#c8001e"/>
<circle cx="339.2" cy="392.8" r="1.07" fill="#c8001e"/>
<circle cx="355.1" cy="392.8" r="1.07" fill="#c8001e"/>
<circle cx="421.9" cy="339.4" r="1.07" fill="#c8001e"/>
<circle cx="445.7" cy="338.8" r="1.07" fill="#c8001e"/>
<circle cx="420.8" cy="344.8" r="1.07" fill="#c8001e"/>
<circle cx="421.6" cy="347.2" r="1.07" fill="#c8001e"/>
<circle cx="424.1" cy="352.2" r="1.07" fill="#c8001e"/>
<circle cx="426.6" cy="354.6" r="1.07" fill="#c8001e"/>
<circle cx="432.8" cy="358.4" r="1.07" fill="#c8001e"/>
<circle cx="421.6" cy="356.8" r="1.07" fill="#c8001e"/>
<circle cx="422.2" cy="358.4" r="1.07" fill="#c8001e"/>
<circle cx="421.4" cy="360.1" r="1.07" fill="#c8001e"/>
<circle cx="422.5" cy="361.7" r="1.07" fill="#c8001e"/>
<circle cx="421.1" cy="363.4" r="1.07" fill="#c8001e"/>
<circle cx="424.1" cy="361.7" r="1.07" fill="#c8001e"/>
<circle cx="424.9" cy="362.8" r="1.07" fill="#c8001e"/>
<circle cx="423.5" cy="364.4" r="1.07" fill="#c8001e"/>
<circle cx="425.2" cy="365.5" r="1.07" fill="#c8001e"/>
<circle cx="425.7" cy="367.7" r="1.07" fill="#c8001e"/>
<circle cx="427.9" cy="366.1" r="1.07" fill="#c8001e"/>
<circle cx="420.3" cy="366.6" r="1.07" fill="#c8001e"/>
<circle cx="421.4" cy="367.7" r="1.07" fill="#c8001e"/>
<circle cx="422.7" cy="367.7" r="1.07" fill="#c8001e"/>
<circle cx="428.5" cy="370.1" r="1.07" fill="#c8001e"/>
<circle cx="444.8" cy="369.9" r="1.07" fill="#c8001e"/>
<circle cx="420.8" cy="371" r="1.07" fill="#c8001e"/>
<circle cx="421.9" cy="372.6" r="1.07" fill="#c8001e"/>
<circle cx="423" cy="372.1" r="1.07" fill="#c8001e"/>
<circle cx="431.2" cy="373.7" r="1.07" fill="#c8001e"/>
<circle cx="436.1" cy="373.2" r="1.07" fill="#c8001e"/>
<circle cx="420.8" cy="375.3" r="1.07" fill="#c8001e"/>
<circle cx="421.9" cy="375.9" r="1.07" fill="#c8001e"/>
<circle cx="425.2" cy="374.8" r="1.07" fill="#c8001e"/>
<circle cx="423" cy="377" r="1.07" fill="#c8001e"/>
<circle cx="433.9" cy="378.1" r="1.07" fill="#c8001e"/>
<circle cx="421.4" cy="379.2" r="1.07" fill="#c8001e"/>
<circle cx="436.1" cy="380.8" r="1.07" fill="#c8001e"/>
<circle cx="420.8" cy="382.4" r="1.07" fill="#c8001e"/>
<circle cx="424.1" cy="383" r="1.07" fill="#c8001e"/>
<circle cx="425.2" cy="382.4" r="1.07" fill="#c8001e"/>
<circle cx="428.5" cy="384.6" r="1.07" fill="#c8001e"/>
<circle cx="438.8" cy="383" r="1.07" fill="#c8001e"/>
<circle cx="440.8" cy="385.2" r="1.07" fill="#c8001e"/>
<circle cx="443.7" cy="384.6" r="1.07" fill="#c8001e"/>
<circle cx="423" cy="386.3" r="1.07" fill="#c8001e"/>
<circle cx="425.2" cy="387.3" r="1.07" fill="#c8001e"/>
<circle cx="427.9" cy="387.3" r="1.07" fill="#c8001e"/>
<circle cx="435" cy="386" r="1.07" fill="#c8001e"/>
<circle cx="440.1" cy="387.6" r="1.07" fill="#c8001e"/>
<circle cx="424.6" cy="389.5" r="1.07" fill="#c8001e"/>
<circle cx="425.7" cy="391.2" r="1.07" fill="#c8001e"/>
<circle cx="427.9" cy="390.6" r="1.07" fill="#c8001e"/>
<circle cx="429.5" cy="390.1" r="1.07" fill="#c8001e"/>
<circle cx="430.1" cy="391.7" r="1.07" fill="#c8001e"/>
<circle cx="431.2" cy="392.8" r="1.07" fill="#c8001e"/>
<circle cx="441" cy="390.1" r="1.07" fill="#c8001e"/>
<circle cx="439.9" cy="392.3" r="1.07" fill="#c8001e"/>
<circle cx="445.6" cy="390.6" r="1.07" fill="#c8001e"/>
<circle cx="420.8" cy="393.3" r="1.07" fill="#c8001e"/>
<circle cx="421.9" cy="393.9" r="1.07" fill="#c8001e"/>
<circle cx="423" cy="392.8" r="1.07" fill="#c8001e"/>
<circle cx="466.9" cy="358" r="1.07" fill="#c8001e"/>
<circle cx="454.9" cy="363.2" r="1.07" fill="#c8001e"/>
<circle cx="483.1" cy="372.3" r="1.07" fill="#c8001e"/>
<circle cx="448" cy="376.2" r="1.07" fill="#c8001e"/>
<circle cx="450.8" cy="375.7" r="1.07" fill="#c8001e"/>
<circle cx="461.1" cy="376.5" r="1.07" fill="#c8001e"/>
<circle cx="449.5" cy="380.8" r="1.07" fill="#c8001e"/>
<circle cx="443.8" cy="384.2" r="1.07" fill="#c8001e"/>
<circle cx="447.7" cy="384.6" r="1.07" fill="#c8001e"/>
<circle cx="451.1" cy="384.2" r="1.07" fill="#c8001e"/>
<circle cx="466.6" cy="386.3" r="1.07" fill="#c8001e"/>
<circle cx="475.7" cy="385.8" r="1.07" fill="#c8001e"/>
<circle cx="495.4" cy="389.7" r="1.07" fill="#c8001e"/>
<circle cx="500.5" cy="387.4" r="1.07" fill="#c8001e"/>
<circle cx="445.7" cy="390.5" r="1.07" fill="#c8001e"/>
<circle cx="453.5" cy="389.4" r="1.07" fill="#c8001e"/>
<circle cx="459.2" cy="390.8" r="1.07" fill="#c8001e"/>
<circle cx="456.6" cy="393.5" r="1.07" fill="#c8001e"/>
<circle cx="477.2" cy="391.5" r="1.07" fill="#c8001e"/>
<circle cx="36.8" cy="478.8" r="1.07" fill="#c8001e"/>
<circle cx="41.2" cy="505.9" r="1.07" fill="#c8001e"/>
<circle cx="42.1" cy="505.9" r="1.07" fill="#c8001e"/>
<circle cx="47.3" cy="512.4" r="1.07" fill="#c8001e"/>
<circle cx="37.4" cy="518" r="1.07" fill="#c8001e"/>
<circle cx="41.2" cy="518.3" r="1.07" fill="#c8001e"/>
<circle cx="38.3" cy="520.3" r="1.07" fill="#c8001e"/>
<circle cx="38" cy="522.4" r="1.07" fill="#c8001e"/>
<circle cx="39.5" cy="522.7" r="1.07" fill="#c8001e"/>
<circle cx="37.1" cy="523.3" r="1.07" fill="#c8001e"/>
<circle cx="40.1" cy="524" r="1.07" fill="#c8001e"/>
<circle cx="38.2" cy="525" r="1.07" fill="#c8001e"/>
<circle cx="40.7" cy="526" r="1.07" fill="#c8001e"/>
<circle cx="37.2" cy="526.3" r="1.07" fill="#c8001e"/>
<circle cx="39" cy="527" r="1.07" fill="#c8001e"/>
<circle cx="36.8" cy="528.6" r="1.07" fill="#c8001e"/>
<circle cx="40" cy="528.4" r="1.07" fill="#c8001e"/>
<circle cx="41.5" cy="528" r="1.07" fill="#c8001e"/>
<circle cx="38.2" cy="529.6" r="1.07" fill="#c8001e"/>
<circle cx="40.5" cy="530.2" r="1.07" fill="#c8001e"/>
<circle cx="36.5" cy="530.5" r="1.07" fill="#c8001e"/>
<circle cx="42" cy="530.4" r="1.07" fill="#c8001e"/>
<circle cx="43.9" cy="524.2" r="1.07" fill="#c8001e"/>
<circle cx="44.5" cy="525.9" r="1.07" fill="#c8001e"/>
<circle cx="43.9" cy="527.7" r="1.07" fill="#c8001e"/>
<circle cx="44.8" cy="528.9" r="1.07" fill="#c8001e"/>
<circle cx="45.4" cy="529.5" r="1.07" fill="#c8001e"/>
<circle cx="47.1" cy="523.6" r="1.07" fill="#c8001e"/>
<circle cx="49.5" cy="524.2" r="1.07" fill="#c8001e"/>
<circle cx="54.7" cy="521.7" r="1.07" fill="#c8001e"/>
<circle cx="61.3" cy="520.5" r="1.07" fill="#c8001e"/>
<circle cx="57.2" cy="526.5" r="1.07" fill="#c8001e"/>
<circle cx="56.3" cy="527.7" r="1.07" fill="#c8001e"/>
<circle cx="55.4" cy="529.5" r="1.07" fill="#c8001e"/>
<circle cx="46.6" cy="530" r="1.07" fill="#c8001e"/>
<circle cx="48.9" cy="530" r="1.07" fill="#c8001e"/>
<circle cx="51.9" cy="529.5" r="1.07" fill="#c8001e"/>
<circle cx="50.7" cy="530.3" r="1.07" fill="#c8001e"/>
<circle cx="59" cy="529.5" r="1.07" fill="#c8001e"/>
<circle cx="60.4" cy="529.8" r="1.07" fill="#c8001e"/>
<circle cx="61.9" cy="530.1" r="1.07" fill="#c8001e"/>
<circle cx="70.8" cy="515.5" r="1.07" fill="#c8001e"/>
<circle cx="54.6" cy="521.6" r="1.07" fill="#c8001e"/>
<circle cx="63.8" cy="522.2" r="1.07" fill="#c8001e"/>
<circle cx="65.4" cy="521.6" r="1.07" fill="#c8001e"/>
<circle cx="82.6" cy="519.3" r="1.07" fill="#c8001e"/>
<circle cx="76.9" cy="523.9" r="1.07" fill="#c8001e"/>
<circle cx="72.8" cy="526.1" r="1.07" fill="#c8001e"/>
<circle cx="63.8" cy="526.2" r="1.07" fill="#c8001e"/>
<circle cx="56.9" cy="526.8" r="1.07" fill="#c8001e"/>
<circle cx="91.2" cy="527.8" r="1.07" fill="#c8001e"/>
<circle cx="98.9" cy="526.1" r="1.07" fill="#c8001e"/>
<circle cx="116.2" cy="525.6" r="1.07" fill="#c8001e"/>
<circle cx="66" cy="529.6" r="1.07" fill="#c8001e"/>
<circle cx="68" cy="530" r="1.07" fill="#c8001e"/>
<circle cx="74" cy="529.6" r="1.07" fill="#c8001e"/>
<circle cx="76" cy="530" r="1.07" fill="#c8001e"/>
<circle cx="83" cy="530" r="1.07" fill="#c8001e"/>
<circle cx="93" cy="530.3" r="1.07" fill="#c8001e"/>
<circle cx="111.2" cy="530" r="1.07" fill="#c8001e"/>
<circle cx="52.3" cy="530" r="1.07" fill="#c8001e"/>
<circle cx="164.1" cy="483.2" r="1.07" fill="#c8001e"/>
<circle cx="198.2" cy="492.2" r="1.07" fill="#c8001e"/>
<circle cx="196.9" cy="504.5" r="1.07" fill="#c8001e"/>
<circle cx="191.1" cy="511.2" r="1.07" fill="#c8001e"/>
<circle cx="226.2" cy="518.1" r="1.07" fill="#c8001e"/>
<circle cx="210" cy="521.6" r="1.07" fill="#c8001e"/>
<circle cx="210.5" cy="525" r="1.07" fill="#c8001e"/>
<circle cx="218.8" cy="525.8" r="1.07" fill="#c8001e"/>
<circle cx="203.8" cy="525.5" r="1.07" fill="#c8001e"/>
<circle cx="188" cy="522.2" r="1.07" fill="#c8001e"/>
<circle cx="188.9" cy="523.5" r="1.07" fill="#c8001e"/>
<circle cx="192.8" cy="523.9" r="1.07" fill="#c8001e"/>
<circle cx="184.3" cy="525.3" r="1.07" fill="#c8001e"/>
<circle cx="191.1" cy="527.3" r="1.07" fill="#c8001e"/>
<circle cx="194.2" cy="527.8" r="1.07" fill="#c8001e"/>
<circle cx="200" cy="529.3" r="1.07" fill="#c8001e"/>
<circle cx="202.3" cy="529.6" r="1.07" fill="#c8001e"/>
<circle cx="220.8" cy="530.4" r="1.07" fill="#c8001e"/>
<circle cx="238.5" cy="529.9" r="1.07" fill="#c8001e"/>
<circle cx="243.5" cy="528.4" r="1.07" fill="#c8001e"/>
<circle cx="168.8" cy="503.1" r="1.07" fill="#c8001e"/>
<circle cx="167.4" cy="507.6" r="1.07" fill="#c8001e"/>
<circle cx="168.5" cy="507.9" r="1.07" fill="#c8001e"/>
<circle cx="169.5" cy="507.6" r="1.07" fill="#c8001e"/>
<circle cx="167.1" cy="508.9" r="1.07" fill="#c8001e"/>
<circle cx="167.8" cy="509.3" r="1.07" fill="#c8001e"/>
<circle cx="190.5" cy="511" r="1.07" fill="#c8001e"/>
<circle cx="164.4" cy="514.3" r="1.07" fill="#c8001e"/>
<circle cx="168.5" cy="513.3" r="1.07" fill="#c8001e"/>
<circle cx="171" cy="515.4" r="1.07" fill="#c8001e"/>
<circle cx="174.6" cy="515" r="1.07" fill="#c8001e"/>
<circle cx="179.2" cy="516.2" r="1.07" fill="#c8001e"/>
<circle cx="163.7" cy="517.4" r="1.07" fill="#c8001e"/>
<circle cx="164.7" cy="516.7" r="1.07" fill="#c8001e"/>
<circle cx="166.1" cy="516.7" r="1.07" fill="#c8001e"/>
<circle cx="164.1" cy="519.1" r="1.07" fill="#c8001e"/>
<circle cx="165.4" cy="519.4" r="1.07" fill="#c8001e"/>
<circle cx="166.4" cy="520.1" r="1.07" fill="#c8001e"/>
<circle cx="164.4" cy="520.8" r="1.07" fill="#c8001e"/>
<circle cx="165.8" cy="521.8" r="1.07" fill="#c8001e"/>
<circle cx="167.8" cy="522.5" r="1.07" fill="#c8001e"/>
<circle cx="164.1" cy="522.8" r="1.07" fill="#c8001e"/>
<circle cx="165.4" cy="523.5" r="1.07" fill="#c8001e"/>
<circle cx="167.1" cy="522.8" r="1.07" fill="#c8001e"/>
<circle cx="168.5" cy="522.8" r="1.07" fill="#c8001e"/>
<circle cx="164.4" cy="524.9" r="1.07" fill="#c8001e"/>
<circle cx="165.8" cy="525.5" r="1.07" fill="#c8001e"/>
<circle cx="167.1" cy="525.9" r="1.07" fill="#c8001e"/>
<circle cx="163.7" cy="526.6" r="1.07" fill="#c8001e"/>
<circle cx="165.1" cy="527.2" r="1.07" fill="#c8001e"/>
<circle cx="166.8" cy="527.6" r="1.07" fill="#c8001e"/>
<circle cx="168.1" cy="527.9" r="1.07" fill="#c8001e"/>
<circle cx="169.1" cy="527.6" r="1.07" fill="#c8001e"/>
<circle cx="164.1" cy="528.6" r="1.07" fill="#c8001e"/>
<circle cx="166.1" cy="528.9" r="1.07" fill="#c8001e"/>
<circle cx="167.8" cy="529.3" r="1.07" fill="#c8001e"/>
<circle cx="169.5" cy="529.6" r="1.07" fill="#c8001e"/>
<circle cx="164.7" cy="530" r="1.07" fill="#c8001e"/>
<circle cx="166.4" cy="530.3" r="1.07" fill="#c8001e"/>
<circle cx="171.3" cy="518.4" r="1.07" fill="#c8001e"/>
<circle cx="175.6" cy="523.9" r="1.07" fill="#c8001e"/>
<circle cx="176.6" cy="524.9" r="1.07" fill="#c8001e"/>
<circle cx="177.3" cy="525.4" r="1.07" fill="#c8001e"/>
<circle cx="171.5" cy="525.2" r="1.07" fill="#c8001e"/>
<circle cx="184.1" cy="525.2" r="1.07" fill="#c8001e"/>
<circle cx="186.8" cy="528.3" r="1.07" fill="#c8001e"/>
<circle cx="171.5" cy="528.3" r="1.07" fill="#c8001e"/>
<circle cx="172.9" cy="528.6" r="1.07" fill="#c8001e"/>
<circle cx="174.6" cy="528.9" r="1.07" fill="#c8001e"/>
<circle cx="178.7" cy="529.3" r="1.07" fill="#c8001e"/>
<circle cx="179.7" cy="529.6" r="1.07" fill="#c8001e"/>
<circle cx="182" cy="529.3" r="1.07" fill="#c8001e"/>
<circle cx="183.4" cy="530" r="1.07" fill="#c8001e"/>
<circle cx="184.4" cy="530.3" r="1.07" fill="#c8001e"/>
<circle cx="293.7" cy="475.2" r="1.07" fill="#c8001e"/>
<circle cx="294" cy="495.5" r="1.07" fill="#c8001e"/>
<circle cx="298.8" cy="500" r="1.07" fill="#c8001e"/>
<circle cx="304" cy="501.5" r="1.07" fill="#c8001e"/>
<circle cx="297.8" cy="508" r="1.07" fill="#c8001e"/>
<circle cx="301.1" cy="507.7" r="1.07" fill="#c8001e"/>
<circle cx="294.8" cy="510" r="1.07" fill="#c8001e"/>
<circle cx="295.9" cy="510.3" r="1.07" fill="#c8001e"/>
<circle cx="298.2" cy="511.5" r="1.07" fill="#c8001e"/>
<circle cx="295.5" cy="512.3" r="1.07" fill="#c8001e"/>
<circle cx="296.7" cy="513" r="1.07" fill="#c8001e"/>
<circle cx="297.4" cy="514.2" r="1.07" fill="#c8001e"/>
<circle cx="296.3" cy="514.6" r="1.07" fill="#c8001e"/>
<circle cx="298.2" cy="515.7" r="1.07" fill="#c8001e"/>
<circle cx="297.1" cy="516.5" r="1.07" fill="#c8001e"/>
<circle cx="318" cy="510.9" r="1.07" fill="#c8001e"/>
<circle cx="318" cy="513.6" r="1.07" fill="#c8001e"/>
<circle cx="307.4" cy="515.3" r="1.07" fill="#c8001e"/>
<circle cx="311.3" cy="516.7" r="1.07" fill="#c8001e"/>
<circle cx="313.9" cy="515.2" r="1.07" fill="#c8001e"/>
<circle cx="293.2" cy="517.2" r="1.07" fill="#c8001e"/>
<circle cx="294.4" cy="516.9" r="1.07" fill="#c8001e"/>
<circle cx="295.9" cy="517.6" r="1.07" fill="#c8001e"/>
<circle cx="293.6" cy="520.3" r="1.07" fill="#c8001e"/>
<circle cx="295.1" cy="521.1" r="1.07" fill="#c8001e"/>
<circle cx="296.7" cy="520.7" r="1.07" fill="#c8001e"/>
<circle cx="294.4" cy="522.2" r="1.07" fill="#c8001e"/>
<circle cx="295.9" cy="523" r="1.07" fill="#c8001e"/>
<circle cx="292.8" cy="523.4" r="1.07" fill="#c8001e"/>
<circle cx="294.8" cy="524.5" r="1.07" fill="#c8001e"/>
<circle cx="296.3" cy="525.3" r="1.07" fill="#c8001e"/>
<circle cx="293.6" cy="526.1" r="1.07" fill="#c8001e"/>
<circle cx="295.5" cy="526.8" r="1.07" fill="#c8001e"/>
<circle cx="297.1" cy="526.5" r="1.07" fill="#c8001e"/>
<circle cx="293.2" cy="528" r="1.07" fill="#c8001e"/>
<circle cx="300.5" cy="520.3" r="1.07" fill="#c8001e"/>
<circle cx="308.6" cy="521.5" r="1.07" fill="#c8001e"/>
<circle cx="312" cy="521.5" r="1.07" fill="#c8001e"/>
<circle cx="300.5" cy="524.5" r="1.07" fill="#c8001e"/>
<circle cx="305.1" cy="524.9" r="1.07" fill="#c8001e"/>
<circle cx="313.6" cy="525.3" r="1.07" fill="#c8001e"/>
<circle cx="313.2" cy="526.8" r="1.07" fill="#c8001e"/>
<circle cx="319.7" cy="525.7" r="1.07" fill="#c8001e"/>
<circle cx="320.5" cy="526.8" r="1.07" fill="#c8001e"/>
<circle cx="316.2" cy="527.6" r="1.07" fill="#c8001e"/>
<circle cx="317.4" cy="528" r="1.07" fill="#c8001e"/>
<circle cx="300.5" cy="527.2" r="1.07" fill="#c8001e"/>
<circle cx="303.2" cy="527.6" r="1.07" fill="#c8001e"/>
<circle cx="305.9" cy="528.4" r="1.07" fill="#c8001e"/>
<circle cx="294" cy="529.5" r="1.07" fill="#c8001e"/>
<circle cx="297.4" cy="529.5" r="1.07" fill="#c8001e"/>
<circle cx="308.2" cy="529.9" r="1.07" fill="#c8001e"/>
<circle cx="312.8" cy="529.9" r="1.07" fill="#c8001e"/>
<circle cx="323.8" cy="493" r="1.07" fill="#c8001e"/>
<circle cx="327.7" cy="513.9" r="1.07" fill="#c8001e"/>
<circle cx="339.7" cy="519.6" r="1.07" fill="#c8001e"/>
<circle cx="339.2" cy="523.5" r="1.07" fill="#c8001e"/>
<circle cx="333.4" cy="522.8" r="1.07" fill="#c8001e"/>
<circle cx="323.4" cy="522.2" r="1.07" fill="#c8001e"/>
<circle cx="355.8" cy="523.9" r="1.07" fill="#c8001e"/>
<circle cx="320" cy="525.8" r="1.07" fill="#c8001e"/>
<circle cx="321.1" cy="527.6" r="1.07" fill="#c8001e"/>
<circle cx="326.2" cy="528.4" r="1.07" fill="#c8001e"/>
<circle cx="329.2" cy="528.8" r="1.07" fill="#c8001e"/>
<circle cx="329.7" cy="530.4" r="1.07" fill="#c8001e"/>
<circle cx="332" cy="528.4" r="1.07" fill="#c8001e"/>
<circle cx="348.2" cy="529.3" r="1.07" fill="#c8001e"/>
<circle cx="350.3" cy="530" r="1.07" fill="#c8001e"/>
<circle cx="368.2" cy="526.8" r="1.07" fill="#c8001e"/>
<circle cx="373.1" cy="525.8" r="1.07" fill="#c8001e"/>
<circle cx="421.1" cy="479.7" r="1.07" fill="#c8001e"/>
<circle cx="421.7" cy="482.8" r="1.07" fill="#c8001e"/>
<circle cx="426.5" cy="479.7" r="1.07" fill="#c8001e"/>
<circle cx="422.7" cy="490" r="1.07" fill="#c8001e"/>
<circle cx="422.7" cy="491.5" r="1.07" fill="#c8001e"/>
<circle cx="421.7" cy="495.2" r="1.07" fill="#c8001e"/>
<circle cx="423.2" cy="495.7" r="1.07" fill="#c8001e"/>
<circle cx="424.4" cy="495.7" r="1.07" fill="#c8001e"/>
<circle cx="428.4" cy="499.6" r="1.07" fill="#c8001e"/>
<circle cx="439.5" cy="499.6" r="1.07" fill="#c8001e"/>
<circle cx="441.3" cy="504.5" r="1.07" fill="#c8001e"/>
<circle cx="422.7" cy="502.7" r="1.07" fill="#c8001e"/>
<circle cx="425.3" cy="502.9" r="1.07" fill="#c8001e"/>
<circle cx="424.2" cy="504" r="1.07" fill="#c8001e"/>
<circle cx="425.8" cy="505" r="1.07" fill="#c8001e"/>
<circle cx="427.3" cy="505.5" r="1.07" fill="#c8001e"/>
<circle cx="423.2" cy="506" r="1.07" fill="#c8001e"/>
<circle cx="424.8" cy="506.5" r="1.07" fill="#c8001e"/>
<circle cx="423.7" cy="507.6" r="1.07" fill="#c8001e"/>
<circle cx="421.7" cy="508.1" r="1.07" fill="#c8001e"/>
<circle cx="420.6" cy="508.6" r="1.07" fill="#c8001e"/>
<circle cx="422.2" cy="511.2" r="1.07" fill="#c8001e"/>
<circle cx="423.2" cy="511.7" r="1.07" fill="#c8001e"/>
<circle cx="424.8" cy="513.3" r="1.07" fill="#c8001e"/>
<circle cx="425.3" cy="514.8" r="1.07" fill="#c8001e"/>
<circle cx="421.7" cy="514.3" r="1.07" fill="#c8001e"/>
<circle cx="422.2" cy="516.4" r="1.07" fill="#c8001e"/>
<circle cx="423.2" cy="517.4" r="1.07" fill="#c8001e"/>
<circle cx="421.7" cy="518.4" r="1.07" fill="#c8001e"/>
<circle cx="421.1" cy="520.5" r="1.07" fill="#c8001e"/>
<circle cx="423.2" cy="521" r="1.07" fill="#c8001e"/>
<circle cx="424.8" cy="521" r="1.07" fill="#c8001e"/>
<circle cx="421.7" cy="522.6" r="1.07" fill="#c8001e"/>
<circle cx="424.2" cy="523.6" r="1.07" fill="#c8001e"/>
<circle cx="430.4" cy="514.8" r="1.07" fill="#c8001e"/>
<circle cx="433" cy="516.9" r="1.07" fill="#c8001e"/>
<circle cx="434.1" cy="517.4" r="1.07" fill="#c8001e"/>
<circle cx="427.9" cy="520.5" r="1.07" fill="#c8001e"/>
<circle cx="428.4" cy="522.1" r="1.07" fill="#c8001e"/>
<circle cx="429.4" cy="523.1" r="1.07" fill="#c8001e"/>
<circle cx="431" cy="523.6" r="1.07" fill="#c8001e"/>
<circle cx="432" cy="524.4" r="1.07" fill="#c8001e"/>
<circle cx="445.4" cy="513.1" r="1.07" fill="#c8001e"/>
<circle cx="447.5" cy="511.2" r="1.07" fill="#c8001e"/>
<circle cx="449.1" cy="513.3" r="1.07" fill="#c8001e"/>
<circle cx="438.7" cy="520" r="1.07" fill="#c8001e"/>
<circle cx="440.8" cy="519" r="1.07" fill="#c8001e"/>
<circle cx="447.5" cy="521" r="1.07" fill="#c8001e"/>
<circle cx="435.6" cy="526.7" r="1.07" fill="#c8001e"/>
<circle cx="436.1" cy="529.8" r="1.07" fill="#c8001e"/>
<circle cx="440.3" cy="527.2" r="1.07" fill="#c8001e"/>
<circle cx="444.4" cy="525.2" r="1.07" fill="#c8001e"/>
<circle cx="443.9" cy="526.2" r="1.07" fill="#c8001e"/>
<circle cx="445.4" cy="527.7" r="1.07" fill="#c8001e"/>
<circle cx="422.2" cy="526.7" r="1.07" fill="#c8001e"/>
<circle cx="424.8" cy="527.7" r="1.07" fill="#c8001e"/>
<circle cx="425.3" cy="528.8" r="1.07" fill="#c8001e"/>
<circle cx="421.1" cy="530.3" r="1.07" fill="#c8001e"/>
<circle cx="421.7" cy="530.8" r="1.07" fill="#c8001e"/>
<circle cx="447.6" cy="510.8" r="1.07" fill="#c8001e"/>
<circle cx="448.8" cy="512.8" r="1.07" fill="#c8001e"/>
<circle cx="466.3" cy="515.8" r="1.07" fill="#c8001e"/>
<circle cx="475.1" cy="515.8" r="1.07" fill="#c8001e"/>
<circle cx="482.7" cy="511.1" r="1.07" fill="#c8001e"/>
<circle cx="447.6" cy="520.9" r="1.07" fill="#c8001e"/>
<circle cx="454.9" cy="517.9" r="1.07" fill="#c8001e"/>
<circle cx="451" cy="522.9" r="1.07" fill="#c8001e"/>
<circle cx="453.6" cy="524.2" r="1.07" fill="#c8001e"/>
<circle cx="456.5" cy="523.3" r="1.07" fill="#c8001e"/>
<circle cx="457" cy="524.5" r="1.07" fill="#c8001e"/>
<circle cx="460.7" cy="522.1" r="1.07" fill="#c8001e"/>
<circle cx="443.4" cy="525.2" r="1.07" fill="#c8001e"/>
<circle cx="444.7" cy="524.7" r="1.07" fill="#c8001e"/>
<circle cx="445.4" cy="527.7" r="1.07" fill="#c8001e"/>
<circle cx="450.5" cy="527.4" r="1.07" fill="#c8001e"/>
<circle cx="459" cy="527.2" r="1.07" fill="#c8001e"/>
<circle cx="466.8" cy="525.2" r="1.07" fill="#c8001e"/>
<circle cx="477" cy="529.7" r="1.07" fill="#c8001e"/>
<circle cx="494.7" cy="527.7" r="1.07" fill="#c8001e"/>
<circle cx="499.7" cy="524" r="1.07" fill="#c8001e"/>
</svg>
</body></html>
